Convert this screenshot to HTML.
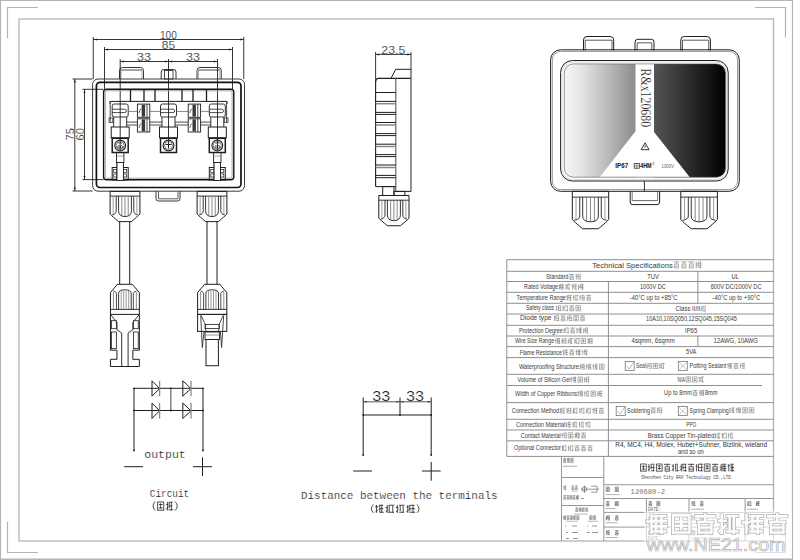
<!DOCTYPE html>
<html><head><meta charset="utf-8"><style>
html,body{margin:0;padding:0;background:#fff;width:800px;height:560px;overflow:hidden}
svg{display:block}
</style></head><body>
<svg width="800" height="560" viewBox="0 0 800 560">
<rect width="800" height="560" fill="#fff"/>
<line x1="0" y1="0.5" x2="793" y2="0.5" stroke="#b4b4b4" stroke-width="1.2" />
<line x1="0.5" y1="0" x2="0.5" y2="560" stroke="#b4b4b4" stroke-width="1.2" />
<line x1="792.5" y1="0" x2="792.5" y2="560" stroke="#b4b4b4" stroke-width="1.2" />
<line x1="0" y1="559.3" x2="793" y2="559.3" stroke="#b4b4b4" stroke-width="1.4" />
<rect x="19" y="19" width="754.5" height="522" rx="0" fill="none" stroke="#b4b4b4" stroke-width="1.3" />
<path d="M38,7.5 H7.5 V38" fill="none" stroke="#b4b4b4" stroke-width="1.2" />
<path d="M755,7.5 H785.5 V37.5" fill="none" stroke="#b4b4b4" stroke-width="1.2" />
<path d="M7.5,522 V552.5 H38" fill="none" stroke="#b4b4b4" stroke-width="1.2" />
<path d="M785.5,522 V552.5 H755" fill="none" stroke="#b4b4b4" stroke-width="1.2" />
<line x1="93.25" y1="37" x2="93.25" y2="79" stroke="#1e1e1e" stroke-width="0.9" />
<line x1="243.75" y1="37" x2="243.75" y2="79" stroke="#1e1e1e" stroke-width="0.9" />
<line x1="93.25" y1="39.5" x2="243.75" y2="39.5" stroke="#1e1e1e" stroke-width="0.9" />
<polygon points="93.6,39.5 96.8,38.5 96.8,40.5" fill="#222"/>
<polygon points="243.4,39.5 240.20000000000002,38.5 240.20000000000002,40.5" fill="#222"/>
<text x="168.4" y="38.6" font-family="Liberation Sans" font-size="10.6" text-anchor="middle" fill="#222" textLength="16.8" lengthAdjust="spacingAndGlyphs" stroke="#fff" stroke-width="0.18">100</text>
<line x1="104.5" y1="47" x2="104.5" y2="89" stroke="#1e1e1e" stroke-width="0.9" />
<line x1="232.5" y1="47" x2="232.5" y2="89" stroke="#1e1e1e" stroke-width="0.9" />
<line x1="104.5" y1="49.5" x2="232.5" y2="49.5" stroke="#1e1e1e" stroke-width="0.9" />
<polygon points="104.9,49.5 108.10000000000001,48.5 108.10000000000001,50.5" fill="#222"/>
<polygon points="232.1,49.5 228.9,48.5 228.9,50.5" fill="#222"/>
<text x="168.5" y="48.5" font-family="Liberation Sans" font-size="10.8" text-anchor="middle" fill="#222" textLength="13.4" lengthAdjust="spacingAndGlyphs" stroke="#fff" stroke-width="0.18">85</text>
<line x1="120.2" y1="59" x2="120.2" y2="150" stroke="#1e1e1e" stroke-width="0.9" />
<line x1="168.5" y1="59" x2="168.5" y2="146" stroke="#1e1e1e" stroke-width="0.9" />
<line x1="217.5" y1="59" x2="217.5" y2="150" stroke="#1e1e1e" stroke-width="0.9" />
<line x1="120.2" y1="61.5" x2="217.5" y2="61.5" stroke="#1e1e1e" stroke-width="0.9" />
<polygon points="120.6,61.5 123.8,60.5 123.8,62.5" fill="#222"/>
<polygon points="168.1,61.5 164.9,60.5 164.9,62.5" fill="#222"/>
<polygon points="168.9,61.5 172.1,60.5 172.1,62.5" fill="#222"/>
<polygon points="217.1,61.5 213.9,60.5 213.9,62.5" fill="#222"/>
<text x="144" y="60.5" font-family="Liberation Sans" font-size="10.6" text-anchor="middle" fill="#222" textLength="14" lengthAdjust="spacingAndGlyphs" stroke="#fff" stroke-width="0.18">33</text>
<text x="193" y="60.5" font-family="Liberation Sans" font-size="10.6" text-anchor="middle" fill="#222" textLength="14" lengthAdjust="spacingAndGlyphs" stroke="#fff" stroke-width="0.18">33</text>
<line x1="72.5" y1="79" x2="92.5" y2="79" stroke="#1e1e1e" stroke-width="0.9" />
<line x1="72.5" y1="191" x2="92.5" y2="191" stroke="#1e1e1e" stroke-width="0.9" />
<line x1="74.8" y1="79" x2="74.8" y2="191" stroke="#1e1e1e" stroke-width="0.9" />
<polygon points="74.8,79.4 73.8,82.60000000000001 75.8,82.60000000000001" fill="#222"/>
<polygon points="74.8,190.6 73.8,187.4 75.8,187.4" fill="#222"/>
<text x="0" y="0" font-family="Liberation Sans" font-size="10.4" text-anchor="middle" fill="#222" textLength="12.5" lengthAdjust="spacingAndGlyphs" stroke="#fff" stroke-width="0.18" transform="translate(73.6,134.3) rotate(-90)">75</text>
<line x1="82.5" y1="89.3" x2="103.5" y2="89.3" stroke="#1e1e1e" stroke-width="0.9" />
<line x1="82.5" y1="179.6" x2="103.5" y2="179.6" stroke="#1e1e1e" stroke-width="0.9" />
<line x1="84.5" y1="89.3" x2="84.5" y2="179.6" stroke="#1e1e1e" stroke-width="0.9" />
<polygon points="84.5,89.7 83.5,92.9 85.5,92.9" fill="#222"/>
<polygon points="84.5,179.2 83.5,176.0 85.5,176.0" fill="#222"/>
<text x="0" y="0" font-family="Liberation Sans" font-size="10.4" text-anchor="middle" fill="#222" textLength="12.5" lengthAdjust="spacingAndGlyphs" stroke="#fff" stroke-width="0.18" transform="translate(83.8,134.3) rotate(-90)">60</text>
<path d="M119.5,79 V70.5 Q119.5,67.5 122.5,67.5 H140.5 Q143.5,67.5 143.5,70.5 V79" fill="none" stroke="#1e1e1e" stroke-width="0.9" />
<line x1="121.0" y1="70" x2="142.0" y2="70" stroke="#1e1e1e" stroke-width="0.8" />
<line x1="121.0" y1="70" x2="121.0" y2="79" stroke="#777" stroke-width="0.6" />
<line x1="142.0" y1="70" x2="142.0" y2="79" stroke="#777" stroke-width="0.6" />
<path d="M197,79 V70.5 Q197,67.5 200,67.5 H218.25 Q221.25,67.5 221.25,70.5 V79" fill="none" stroke="#1e1e1e" stroke-width="0.9" />
<line x1="198.5" y1="70" x2="219.75" y2="70" stroke="#1e1e1e" stroke-width="0.8" />
<line x1="198.5" y1="70" x2="198.5" y2="79" stroke="#777" stroke-width="0.6" />
<line x1="219.75" y1="70" x2="219.75" y2="79" stroke="#777" stroke-width="0.6" />
<path d="M161.2,79 V72 Q161.2,69.5 163.7,69.5 H173.5 Q176,69.5 176,72 V79" fill="none" stroke="#1e1e1e" stroke-width="0.9" />
<rect x="164.5" y="70.5" width="8.5" height="8.5" rx="0" fill="none" stroke="#1e1e1e" stroke-width="0.8" />
<path d="M156,191 V198.5 Q156,201 158.5,201 H177.5 Q180,201 180,198.5 V191" fill="none" stroke="#1e1e1e" stroke-width="0.9" />
<path d="M158.5,191.4 V198.8 H178 V191.4" fill="none" stroke="#333" stroke-width="0.8" />
<rect x="92.6" y="79" width="151.9" height="112.2" rx="5.5" fill="none" stroke="#3a3a3a" stroke-width="1.0" />
<rect x="96.4" y="82.3" width="144.6" height="105.2" rx="3.5" fill="none" stroke="#111" stroke-width="1.7" />
<rect x="103.6" y="89.2" width="130.2" height="90.6" rx="3" fill="none" stroke="#111" stroke-width="1.4" />
<rect x="105.3" y="90.8" width="126.8" height="87.4" rx="2" fill="none" stroke="#9a9a9a" stroke-width="0.9" />
<line x1="110.2" y1="101.4" x2="226.6" y2="101.4" stroke="#1e1e1e" stroke-width="1.0" />
<line x1="130.5" y1="89.5" x2="130.5" y2="101" stroke="#1e1e1e" stroke-width="1.3" />
<line x1="144" y1="89.5" x2="144" y2="101" stroke="#1e1e1e" stroke-width="1.3" />
<line x1="155" y1="89.5" x2="155" y2="101" stroke="#1e1e1e" stroke-width="1.3" />
<line x1="182" y1="89.5" x2="182" y2="101" stroke="#1e1e1e" stroke-width="1.3" />
<line x1="193" y1="89.5" x2="193" y2="101" stroke="#1e1e1e" stroke-width="1.3" />
<line x1="206.5" y1="89.5" x2="206.5" y2="101" stroke="#1e1e1e" stroke-width="1.3" />
<path d="M110,104 V101 M227,101 V104" fill="none" stroke="#1e1e1e" stroke-width="0.8" />
<path d="M110.2,101.3 V122 M226.6,101.3 V122" fill="none" stroke="#1e1e1e" stroke-width="0.8" />
<rect x="224.2" y="118" width="3.8" height="4.5" rx="0" fill="none" stroke="#1e1e1e" stroke-width="0.7" />
<rect x="109" y="118" width="3.8" height="4.5" rx="0" fill="none" stroke="#1e1e1e" stroke-width="0.7" />
<rect x="112.2" y="104" width="16" height="13" rx="2" fill="none" stroke="#1e1e1e" stroke-width="0.9" />
<path d="M112.2,109.2 H124.7 A1.7,1.7 0 0 1 124.7,112.6 H112.2" fill="none" stroke="#1e1e1e" stroke-width="0.8" />
<path d="M113.7,117 V127 M126.7,117 V127" fill="none" stroke="#1e1e1e" stroke-width="0.9" />
<rect x="111.2" y="127" width="18" height="10.8" rx="0" fill="none" stroke="#1e1e1e" stroke-width="1.0" />
<rect x="112.2" y="138.3" width="16" height="14.2" rx="0" fill="none" stroke="#1e1e1e" stroke-width="1.5" />
<path d="M114.8,145.5 a5.4,5.4 0 1,0 10.8,0 a5.4,5.4 0 1,0 -10.8,0" fill="none" stroke="#1e1e1e" stroke-width="1.1" />
<path d="M116.2,145.5 a4,4 0 1,0 8,0 a4,4 0 1,0 -8,0" fill="none" stroke="#444" stroke-width="0.7" />
<rect x="160.5" y="104" width="16" height="13" rx="2" fill="none" stroke="#1e1e1e" stroke-width="0.9" />
<path d="M160.5,109.2 H173.0 A1.7,1.7 0 0 1 173.0,112.6 H160.5" fill="none" stroke="#1e1e1e" stroke-width="0.8" />
<path d="M162.0,117 V127 M175.0,117 V127" fill="none" stroke="#1e1e1e" stroke-width="0.9" />
<rect x="159.5" y="127" width="18" height="10.8" rx="0" fill="none" stroke="#1e1e1e" stroke-width="1.0" />
<rect x="160.5" y="138.3" width="16" height="14.2" rx="0" fill="none" stroke="#1e1e1e" stroke-width="1.5" />
<path d="M163.1,145.5 a5.4,5.4 0 1,0 10.8,0 a5.4,5.4 0 1,0 -10.8,0" fill="none" stroke="#1e1e1e" stroke-width="1.1" />
<path d="M164.5,145.5 a4,4 0 1,0 8,0 a4,4 0 1,0 -8,0" fill="none" stroke="#444" stroke-width="0.7" />
<rect x="209.3" y="104" width="16" height="13" rx="2" fill="none" stroke="#1e1e1e" stroke-width="0.9" />
<path d="M209.3,109.2 H221.8 A1.7,1.7 0 0 1 221.8,112.6 H209.3" fill="none" stroke="#1e1e1e" stroke-width="0.8" />
<path d="M210.8,117 V127 M223.8,117 V127" fill="none" stroke="#1e1e1e" stroke-width="0.9" />
<rect x="208.3" y="127" width="18" height="10.8" rx="0" fill="none" stroke="#1e1e1e" stroke-width="1.0" />
<rect x="209.3" y="138.3" width="16" height="14.2" rx="0" fill="none" stroke="#1e1e1e" stroke-width="1.5" />
<path d="M211.9,145.5 a5.4,5.4 0 1,0 10.8,0 a5.4,5.4 0 1,0 -10.8,0" fill="none" stroke="#1e1e1e" stroke-width="1.1" />
<path d="M213.3,145.5 a4,4 0 1,0 8,0 a4,4 0 1,0 -8,0" fill="none" stroke="#444" stroke-width="0.7" />
<path d="M117.7,147 a1.3,1.3 0 1,0 2.6,0 a1.3,1.3 0 1,0 -2.6,0 M120.4,147 a1.3,1.3 0 1,0 2.6,0 a1.3,1.3 0 1,0 -2.6,0" fill="none" stroke="#1e1e1e" stroke-width="0.7" />
<path d="M118.2,143 h4" fill="none" stroke="#1e1e1e" stroke-width="0.7" />
<path d="M214.8,147 a1.3,1.3 0 1,0 2.6,0 a1.3,1.3 0 1,0 -2.6,0 M217.5,147 a1.3,1.3 0 1,0 2.6,0 a1.3,1.3 0 1,0 -2.6,0" fill="none" stroke="#1e1e1e" stroke-width="0.7" />
<path d="M215.3,143 h4" fill="none" stroke="#1e1e1e" stroke-width="0.7" />
<path d="M165.5,144.5 h6 M168.5,144.5 v4" fill="none" stroke="#1e1e1e" stroke-width="1.0" />
<rect x="137.4" y="104.1" width="12.4" height="13.2" rx="0" fill="none" stroke="#1e1e1e" stroke-width="0.9" />
<rect x="141.7" y="104.69999999999999" width="3.4" height="12" rx="0" fill="#3a3a3a" stroke="none" stroke-width="0" />
<line x1="147.0" y1="104.1" x2="147.0" y2="117.3" stroke="#1e1e1e" stroke-width="0.8" />
<path d="M139.0,113.1 q0.6,-3.5 2.4,-4.5" fill="none" stroke="#1e1e1e" stroke-width="0.7" />
<rect x="137.4" y="118.8" width="12.4" height="13.2" rx="0" fill="none" stroke="#1e1e1e" stroke-width="0.9" />
<rect x="141.7" y="119.39999999999999" width="3.4" height="12" rx="0" fill="#3a3a3a" stroke="none" stroke-width="0" />
<line x1="147.0" y1="118.8" x2="147.0" y2="132.0" stroke="#1e1e1e" stroke-width="0.8" />
<path d="M139.0,127.8 q0.6,-3.5 2.4,-4.5" fill="none" stroke="#1e1e1e" stroke-width="0.7" />
<rect x="188.20000000000002" y="104.1" width="12.4" height="13.2" rx="0" fill="none" stroke="#1e1e1e" stroke-width="0.9" />
<rect x="192.5" y="104.69999999999999" width="3.4" height="12" rx="0" fill="#3a3a3a" stroke="none" stroke-width="0" />
<line x1="197.8" y1="104.1" x2="197.8" y2="117.3" stroke="#1e1e1e" stroke-width="0.8" />
<path d="M189.8,113.1 q0.6,-3.5 2.4,-4.5" fill="none" stroke="#1e1e1e" stroke-width="0.7" />
<rect x="188.20000000000002" y="118.8" width="12.4" height="13.2" rx="0" fill="none" stroke="#1e1e1e" stroke-width="0.9" />
<rect x="192.5" y="119.39999999999999" width="3.4" height="12" rx="0" fill="#3a3a3a" stroke="none" stroke-width="0" />
<line x1="197.8" y1="118.8" x2="197.8" y2="132.0" stroke="#1e1e1e" stroke-width="0.8" />
<path d="M189.8,127.8 q0.6,-3.5 2.4,-4.5" fill="none" stroke="#1e1e1e" stroke-width="0.7" />
<line x1="128.2" y1="111.4" x2="137.4" y2="111.4" stroke="#555" stroke-width="0.7" />
<line x1="149.8" y1="111.4" x2="160.5" y2="111.4" stroke="#555" stroke-width="0.7" />
<line x1="176.5" y1="111.4" x2="188.2" y2="111.4" stroke="#555" stroke-width="0.7" />
<line x1="200.6" y1="111.4" x2="209.3" y2="111.4" stroke="#555" stroke-width="0.7" />
<line x1="126.7" y1="122.1" x2="137.4" y2="122.1" stroke="#1e1e1e" stroke-width="0.8" />
<line x1="126.7" y1="125" x2="137.4" y2="125" stroke="#1e1e1e" stroke-width="0.8" />
<line x1="149.8" y1="122.1" x2="162" y2="122.1" stroke="#1e1e1e" stroke-width="0.8" />
<line x1="149.8" y1="125" x2="162" y2="125" stroke="#1e1e1e" stroke-width="0.8" />
<line x1="175" y1="122.1" x2="188.2" y2="122.1" stroke="#1e1e1e" stroke-width="0.8" />
<line x1="175" y1="125" x2="188.2" y2="125" stroke="#1e1e1e" stroke-width="0.8" />
<line x1="200.6" y1="122.1" x2="210.8" y2="122.1" stroke="#1e1e1e" stroke-width="0.8" />
<line x1="200.6" y1="125" x2="210.8" y2="125" stroke="#1e1e1e" stroke-width="0.8" />
<rect x="116.5" y="152.5" width="7.4" height="10" rx="0" fill="none" stroke="#1e1e1e" stroke-width="0.9" />
<line x1="116.5" y1="156" x2="123.9" y2="156" stroke="#666" stroke-width="0.6" />
<rect x="117.0" y="162.5" width="6.4" height="18" rx="0" fill="none" stroke="#1e1e1e" stroke-width="0.9" />
<rect x="112.2" y="167.5" width="16" height="12.5" rx="0" fill="none" stroke="#1e1e1e" stroke-width="1.0" />
<rect x="113.7" y="169.5" width="3.4" height="3" rx="0" fill="none" stroke="#1e1e1e" stroke-width="0.7" />
<rect x="123.3" y="169.5" width="3.4" height="3" rx="0" fill="none" stroke="#1e1e1e" stroke-width="0.7" />
<rect x="113.7" y="174" width="3.4" height="3" rx="0" fill="none" stroke="#1e1e1e" stroke-width="0.7" />
<rect x="123.3" y="174" width="3.4" height="3" rx="0" fill="none" stroke="#1e1e1e" stroke-width="0.7" />
<rect x="117.0" y="162.5" width="6.4" height="18" rx="0" fill="#fff" stroke="#1e1e1e" stroke-width="0.9" />
<rect x="213.60000000000002" y="152.5" width="7.4" height="10" rx="0" fill="none" stroke="#1e1e1e" stroke-width="0.9" />
<line x1="213.60000000000002" y1="156" x2="221.0" y2="156" stroke="#666" stroke-width="0.6" />
<rect x="214.10000000000002" y="162.5" width="6.4" height="18" rx="0" fill="none" stroke="#1e1e1e" stroke-width="0.9" />
<rect x="209.3" y="167.5" width="16" height="12.5" rx="0" fill="none" stroke="#1e1e1e" stroke-width="1.0" />
<rect x="210.8" y="169.5" width="3.4" height="3" rx="0" fill="none" stroke="#1e1e1e" stroke-width="0.7" />
<rect x="220.4" y="169.5" width="3.4" height="3" rx="0" fill="none" stroke="#1e1e1e" stroke-width="0.7" />
<rect x="210.8" y="174" width="3.4" height="3" rx="0" fill="none" stroke="#1e1e1e" stroke-width="0.7" />
<rect x="220.4" y="174" width="3.4" height="3" rx="0" fill="none" stroke="#1e1e1e" stroke-width="0.7" />
<rect x="214.10000000000002" y="162.5" width="6.4" height="18" rx="0" fill="#fff" stroke="#1e1e1e" stroke-width="0.9" />
<path d="M110.1,191.4 V214.05 Q112.1,216.164 118.593,221.6 H131.407 Q137.9,216.164 139.9,214.05 V191.4 Z" fill="none" stroke="#1e1e1e" stroke-width="1.0" />
<line x1="110.1" y1="196.08100000000002" x2="139.9" y2="196.08100000000002" stroke="#1e1e1e" stroke-width="0.9" />
<path d="M116.20899999999999,196.08100000000002 V210.748 Q116.20899999999999,214.248 112.1,214.94799999999998" fill="none" stroke="#1e1e1e" stroke-width="0.9" />
<path d="M133.791,196.08100000000002 V210.748 Q133.791,214.248 137.9,214.94799999999998" fill="none" stroke="#1e1e1e" stroke-width="0.9" />
<line x1="113.1545" y1="196.58100000000002" x2="113.1545" y2="213.748" stroke="#777" stroke-width="0.7" />
<line x1="136.84550000000002" y1="196.58100000000002" x2="136.84550000000002" y2="213.748" stroke="#777" stroke-width="0.7" />
<path d="M118.593,196.08100000000002 V210.748 Q118.593,216.548 125,216.548 Q131.407,216.548 131.407,210.748 V196.08100000000002" fill="none" stroke="#1e1e1e" stroke-width="0.9" />
<line x1="121.7965" y1="196.58100000000002" x2="121.7965" y2="216.048" stroke="#555" stroke-width="0.7" />
<line x1="125" y1="196.58100000000002" x2="125" y2="216.048" stroke="#555" stroke-width="0.7" />
<line x1="128.2035" y1="196.58100000000002" x2="128.2035" y2="216.048" stroke="#555" stroke-width="0.7" />
<path d="M197.1,191.4 V214.05 Q199.1,216.164 205.593,221.6 H218.407 Q224.9,216.164 226.9,214.05 V191.4 Z" fill="none" stroke="#1e1e1e" stroke-width="1.0" />
<line x1="197.1" y1="196.08100000000002" x2="226.9" y2="196.08100000000002" stroke="#1e1e1e" stroke-width="0.9" />
<path d="M203.209,196.08100000000002 V210.748 Q203.209,214.248 199.1,214.94799999999998" fill="none" stroke="#1e1e1e" stroke-width="0.9" />
<path d="M220.791,196.08100000000002 V210.748 Q220.791,214.248 224.9,214.94799999999998" fill="none" stroke="#1e1e1e" stroke-width="0.9" />
<line x1="200.15449999999998" y1="196.58100000000002" x2="200.15449999999998" y2="213.748" stroke="#777" stroke-width="0.7" />
<line x1="223.84550000000002" y1="196.58100000000002" x2="223.84550000000002" y2="213.748" stroke="#777" stroke-width="0.7" />
<path d="M205.593,196.08100000000002 V210.748 Q205.593,216.548 212,216.548 Q218.407,216.548 218.407,210.748 V196.08100000000002" fill="none" stroke="#1e1e1e" stroke-width="0.9" />
<line x1="208.7965" y1="196.58100000000002" x2="208.7965" y2="216.048" stroke="#555" stroke-width="0.7" />
<line x1="212" y1="196.58100000000002" x2="212" y2="216.048" stroke="#555" stroke-width="0.7" />
<line x1="215.2035" y1="196.58100000000002" x2="215.2035" y2="216.048" stroke="#555" stroke-width="0.7" />
<line x1="119.7" y1="221.6" x2="119.7" y2="284" stroke="#1e1e1e" stroke-width="1.0" />
<line x1="129.7" y1="221.6" x2="129.7" y2="284" stroke="#1e1e1e" stroke-width="1.0" />
<line x1="207" y1="221.6" x2="207" y2="284" stroke="#1e1e1e" stroke-width="1.0" />
<line x1="217" y1="221.6" x2="217" y2="284" stroke="#1e1e1e" stroke-width="1.0" />
<path d="M110.45,314.4 V292.6 L117.45,284.3 H132.35 L139.35,292.6 V314.4 Z" fill="none" stroke="#1e1e1e" stroke-width="1.0" />
<line x1="110.45" y1="309.4" x2="139.35" y2="309.4" stroke="#1e1e1e" stroke-width="0.9" />
<path d="M116.45,309.4 V293.3 Q115.45,291.3 113.45,290.90000000000003" fill="none" stroke="#1e1e1e" stroke-width="0.8" />
<path d="M133.35,309.4 V293.3 Q134.35,291.3 136.35,290.90000000000003" fill="none" stroke="#1e1e1e" stroke-width="0.8" />
<line x1="113.45" y1="291.8" x2="113.45" y2="309.4" stroke="#444" stroke-width="0.6" />
<line x1="136.35" y1="291.8" x2="136.35" y2="309.4" stroke="#444" stroke-width="0.6" />
<path d="M118.60000000000001,309.4 V293.3 Q118.60000000000001,289.8 124.9,289.8 Q131.20000000000002,289.8 131.20000000000002,293.3 V309.4" fill="none" stroke="#1e1e1e" stroke-width="0.9" />
<line x1="121.2" y1="290.8" x2="121.2" y2="309.4" stroke="#555" stroke-width="0.6" />
<line x1="123.7" y1="290.8" x2="123.7" y2="309.4" stroke="#555" stroke-width="0.6" />
<line x1="126.2" y1="290.8" x2="126.2" y2="309.4" stroke="#555" stroke-width="0.6" />
<line x1="128.70000000000002" y1="290.8" x2="128.70000000000002" y2="309.4" stroke="#555" stroke-width="0.6" />
<path d="M110.45,314.4 V350.2 H116.95 V359.3 H110.45 V366.5 H139.35 V359.3 H132.85 V350.2 H139.35 V314.4" fill="none" stroke="#1e1e1e" stroke-width="1.0" />
<path d="M110.45,314.4 L116.95,322.3 V329.8 L121.7,333 V366.5 M139.35,314.4 L132.85,322.3 V329.8 L128.1,333 V366.5" fill="none" stroke="#1e1e1e" stroke-width="0.9" />
<rect x="111.55" y="320.7" width="4.8" height="8" rx="0" fill="none" stroke="#1e1e1e" stroke-width="0.8" />
<rect x="133.45" y="320.7" width="4.8" height="8" rx="0" fill="none" stroke="#1e1e1e" stroke-width="0.8" />
<rect x="111.55" y="332" width="4.8" height="16.6" rx="0" fill="none" stroke="#1e1e1e" stroke-width="0.8" />
<rect x="133.45" y="332" width="4.8" height="16.6" rx="0" fill="none" stroke="#1e1e1e" stroke-width="0.8" />
<path d="M197.6,314.4 V292.6 L204.6,284.3 H219.79999999999998 L226.79999999999998,292.6 V314.4 Z" fill="none" stroke="#1e1e1e" stroke-width="1.0" />
<line x1="197.6" y1="309.4" x2="226.79999999999998" y2="309.4" stroke="#1e1e1e" stroke-width="0.9" />
<path d="M203.6,309.4 V293.3 Q202.6,291.3 200.6,290.90000000000003" fill="none" stroke="#1e1e1e" stroke-width="0.8" />
<path d="M220.79999999999998,309.4 V293.3 Q221.79999999999998,291.3 223.79999999999998,290.90000000000003" fill="none" stroke="#1e1e1e" stroke-width="0.8" />
<line x1="200.6" y1="291.8" x2="200.6" y2="309.4" stroke="#444" stroke-width="0.6" />
<line x1="223.79999999999998" y1="291.8" x2="223.79999999999998" y2="309.4" stroke="#444" stroke-width="0.6" />
<path d="M205.89999999999998,309.4 V293.3 Q205.89999999999998,289.8 212.2,289.8 Q218.5,289.8 218.5,293.3 V309.4" fill="none" stroke="#1e1e1e" stroke-width="0.9" />
<line x1="208.5" y1="290.8" x2="208.5" y2="309.4" stroke="#555" stroke-width="0.6" />
<line x1="211.0" y1="290.8" x2="211.0" y2="309.4" stroke="#555" stroke-width="0.6" />
<line x1="213.5" y1="290.8" x2="213.5" y2="309.4" stroke="#555" stroke-width="0.6" />
<line x1="216.0" y1="290.8" x2="216.0" y2="309.4" stroke="#555" stroke-width="0.6" />
<rect x="197.6" y="314.4" width="29.2" height="17" rx="0" fill="none" stroke="#1e1e1e" stroke-width="1.0" />
<path d="M200.7,315.4 L202.29999999999998,347.5 L204.0,331.4 M223.7,315.4 L221.6,347.5 L220.39999999999998,331.4" fill="none" stroke="#1e1e1e" stroke-width="0.8" />
<path d="M201.2,315.4 L205.2,324.4 V328.4 L206.2,331.4 M223.2,315.4 L219.2,324.4 V328.4 L218.2,331.4" fill="none" stroke="#1e1e1e" stroke-width="0.8" />
<rect x="205.2" y="324.4" width="14" height="4" rx="0" fill="none" stroke="#1e1e1e" stroke-width="0.8" />
<rect x="205.0" y="332" width="14.5" height="7.5" rx="0" fill="none" stroke="#1e1e1e" stroke-width="0.9" />
<line x1="205.0" y1="335" x2="219.5" y2="335" stroke="#555" stroke-width="0.6" />
<rect x="206.0" y="339.5" width="12.4" height="26.2" rx="0" fill="none" stroke="#1e1e1e" stroke-width="1.0" />
<line x1="375.6" y1="52" x2="375.6" y2="82" stroke="#1e1e1e" stroke-width="0.9" />
<line x1="411" y1="52" x2="411" y2="70" stroke="#1e1e1e" stroke-width="0.9" />
<line x1="375.6" y1="54.4" x2="411" y2="54.4" stroke="#1e1e1e" stroke-width="0.9" />
<polygon points="376,54.4 379.2,53.4 379.2,55.4" fill="#222"/>
<polygon points="410.6,54.4 407.40000000000003,53.4 407.40000000000003,55.4" fill="#222"/>
<text x="393.3" y="53.8" font-family="Liberation Sans" font-size="10.6" text-anchor="middle" fill="#222" textLength="24" lengthAdjust="spacingAndGlyphs" stroke="#fff" stroke-width="0.18">23.5</text>
<path d="M391,78.4 L395.7,69.3 H411" fill="none" stroke="#1e1e1e" stroke-width="1.0" />
<path d="M375.6,82 Q375.6,78.4 378.5,78.4 H411" fill="none" stroke="#1e1e1e" stroke-width="1.1" />
<line x1="375.6" y1="80" x2="375.6" y2="186.6" stroke="#1e1e1e" stroke-width="1.1" />
<line x1="411" y1="69.3" x2="411" y2="191.4" stroke="#555" stroke-width="1.3" />
<line x1="395.8" y1="78.4" x2="395.8" y2="191.4" stroke="#666" stroke-width="1.2" />
<line x1="375.6" y1="186.6" x2="395.8" y2="186.6" stroke="#1e1e1e" stroke-width="1.0" />
<line x1="395.8" y1="191.4" x2="411" y2="191.4" stroke="#1e1e1e" stroke-width="1.0" />
<line x1="375.6" y1="92.5" x2="395.8" y2="92.5" stroke="#1e1e1e" stroke-width="1.0" />
<line x1="375.6" y1="101.4" x2="395.8" y2="101.4" stroke="#1e1e1e" stroke-width="1.0" />
<line x1="375.6" y1="112.4" x2="395.8" y2="112.4" stroke="#1e1e1e" stroke-width="1.0" />
<line x1="375.6" y1="122.5" x2="395.8" y2="122.5" stroke="#1e1e1e" stroke-width="1.0" />
<line x1="375.6" y1="133.6" x2="395.8" y2="133.6" stroke="#1e1e1e" stroke-width="1.0" />
<line x1="375.6" y1="144.2" x2="395.8" y2="144.2" stroke="#1e1e1e" stroke-width="1.0" />
<line x1="375.6" y1="154.6" x2="395.8" y2="154.6" stroke="#1e1e1e" stroke-width="1.0" />
<line x1="375.6" y1="165.0" x2="395.8" y2="165.0" stroke="#1e1e1e" stroke-width="1.0" />
<line x1="375.6" y1="175.4" x2="395.8" y2="175.4" stroke="#1e1e1e" stroke-width="1.0" />
<line x1="375.6" y1="103.7" x2="395.8" y2="103.7" stroke="#888" stroke-width="1.5" />
<line x1="375.6" y1="125.0" x2="395.8" y2="125.0" stroke="#888" stroke-width="1.5" />
<line x1="375.6" y1="146.5" x2="395.8" y2="146.5" stroke="#888" stroke-width="1.5" />
<line x1="375.6" y1="167.5" x2="395.8" y2="167.5" stroke="#888" stroke-width="1.5" />
<line x1="375.6" y1="114.4" x2="395.8" y2="114.4" stroke="#1e1e1e" stroke-width="1.0" />
<line x1="375.6" y1="135.6" x2="395.8" y2="135.6" stroke="#1e1e1e" stroke-width="1.0" />
<line x1="375.6" y1="156.6" x2="395.8" y2="156.6" stroke="#1e1e1e" stroke-width="1.0" />
<line x1="375.6" y1="177.7" x2="395.8" y2="177.7" stroke="#1e1e1e" stroke-width="1.0" />
<rect x="382.7" y="186.6" width="11.3" height="8.9" rx="0" fill="none" stroke="#1e1e1e" stroke-width="1.0" />
<rect x="394" y="191.4" width="10.9" height="4.1" rx="0" fill="none" stroke="#1e1e1e" stroke-width="1.0" />
<path d="M378.79999999999995,195.5 V218.1875 Q380.79999999999995,220.305 387.407,225.75 H400.393 Q407.0,220.305 409.0,218.1875 V195.5 Z" fill="none" stroke="#1e1e1e" stroke-width="1.0" />
<line x1="378.79999999999995" y1="200.18875" x2="409.0" y2="200.18875" stroke="#1e1e1e" stroke-width="0.9" />
<path d="M384.99099999999993,200.18875 V214.885 Q384.99099999999993,218.385 380.79999999999995,219.08499999999998" fill="none" stroke="#1e1e1e" stroke-width="0.9" />
<path d="M402.809,200.18875 V214.885 Q402.809,218.385 407.0,219.08499999999998" fill="none" stroke="#1e1e1e" stroke-width="0.9" />
<line x1="381.89549999999997" y1="200.68875" x2="381.89549999999997" y2="217.885" stroke="#777" stroke-width="0.7" />
<line x1="405.9045" y1="200.68875" x2="405.9045" y2="217.885" stroke="#777" stroke-width="0.7" />
<path d="M387.407,200.18875 V214.885 Q387.407,220.685 393.9,220.685 Q400.393,220.685 400.393,214.885 V200.18875" fill="none" stroke="#1e1e1e" stroke-width="0.9" />
<line x1="390.65349999999995" y1="200.68875" x2="390.65349999999995" y2="220.185" stroke="#555" stroke-width="0.7" />
<line x1="393.9" y1="200.68875" x2="393.9" y2="220.185" stroke="#555" stroke-width="0.7" />
<line x1="397.1465" y1="200.68875" x2="397.1465" y2="220.185" stroke="#555" stroke-width="0.7" />
<defs>
<linearGradient id="gl" x1="564.3" y1="0" x2="635.5" y2="0" gradientUnits="userSpaceOnUse">
<stop offset="0" stop-color="#f6f6f6"/><stop offset="0.25" stop-color="#e4e4e4"/><stop offset="1" stop-color="#8c8c8c"/></linearGradient>
<linearGradient id="gr" x1="654" y1="0" x2="725.5" y2="0" gradientUnits="userSpaceOnUse">
<stop offset="0" stop-color="#555"/><stop offset="0.7" stop-color="#1a1a1a"/><stop offset="1" stop-color="#000"/></linearGradient>
<clipPath id="lab"><rect x="564.3" y="63.9" width="161.2" height="113.3" rx="9"/></clipPath>
</defs>
<path d="M583.5,50.5 V40.0 Q583.5,36.5 587.0,36.5 H610.2 Q613.7,36.5 613.7,40.0 V50.5" fill="none" stroke="#1e1e1e" stroke-width="1.0" />
<path d="M585.2,50.5 V40.2 H612.0 V50.5" fill="none" stroke="#333" stroke-width="0.8" />
<path d="M680.8,50.5 V40.0 Q680.8,36.5 684.3,36.5 H706.9 Q710.4,36.5 710.4,40.0 V50.5" fill="none" stroke="#1e1e1e" stroke-width="1.0" />
<path d="M682.5,50.5 V40.2 H708.6999999999999 V50.5" fill="none" stroke="#333" stroke-width="0.8" />
<path d="M635,50.5 V42 Q635,39.3 637.7,39.3 H651.3 Q654,39.3 654,42 V50.5" fill="none" stroke="#1e1e1e" stroke-width="1.0" />
<path d="M637.2,50.5 V42.8 H651.8 V50.5" fill="none" stroke="#333" stroke-width="0.8" />
<rect x="550.6" y="49.8" width="188.7" height="141.5" rx="10" fill="none" stroke="#1e1e1e" stroke-width="1.0" />
<rect x="552.3" y="51.4" width="185.3" height="138.2" rx="8.5" fill="none" stroke="#666" stroke-width="0.7" />
<rect x="560.6" y="60.5" width="167.6" height="120.5" rx="12" fill="none" stroke="#1e1e1e" stroke-width="1.0" />
<rect x="562.1" y="62.0" width="164.6" height="117.5" rx="11" fill="none" stroke="#bbb" stroke-width="0.5" />
<g clip-path="url(#lab)">
<rect x="564" y="63" width="72" height="116" fill="url(#gl)"/>
<rect x="654" y="63" width="72" height="116" fill="url(#gr)"/>
<polygon points="635.5,63 654,63 654,131.9 690,177.5 599.5,177.5 635.5,131.3" fill="#fff"/>
</g>
<rect x="564.3" y="63.9" width="161.2" height="113.3" rx="9" fill="none" stroke="#555" stroke-width="0.6" />
<text x="0" y="0" font-family="Liberation Serif" font-size="14.8" text-anchor="start" fill="#111" textLength="58.5" lengthAdjust="spacingAndGlyphs" stroke="#fff" stroke-width="0.2" transform="translate(641.4,68.6) rotate(90)">R&amp;x120680</text>
<path d="M645.1,142.8 L649,149.7 H641.2 Z" fill="none" stroke="#1e1e1e" stroke-width="0.9" />
<path d="M645.1,145.2 V147.6" fill="none" stroke="#1e1e1e" stroke-width="0.8" />
<text x="621.7" y="168.1" font-family="Liberation Sans" font-size="6.4" text-anchor="middle" fill="#111" textLength="12.8" lengthAdjust="spacingAndGlyphs" font-weight="bold">IP67</text>
<rect x="634.2" y="163.6" width="5.4" height="4.6" rx="0" fill="none" stroke="#1e1e1e" stroke-width="0.7" />
<line x1="636.9" y1="163.6" x2="636.9" y2="168.2" stroke="#1e1e1e" stroke-width="0.5" />
<line x1="634.2" y1="165.9" x2="639.6" y2="165.9" stroke="#1e1e1e" stroke-width="0.5" />
<text x="640.2" y="168.1" font-family="Liberation Sans" font-size="6.4" text-anchor="start" fill="#111" textLength="11.4" lengthAdjust="spacingAndGlyphs" font-weight="bold">4HM</text>
<text x="652.3" y="165.4" font-family="Liberation Sans" font-size="3.5" text-anchor="start" fill="#111" >2</text>
<text x="667.8" y="168.1" font-family="Liberation Sans" font-size="5.6" text-anchor="middle" fill="#666" textLength="12.5" lengthAdjust="spacingAndGlyphs" >1000V</text>
<line x1="644.4" y1="181" x2="644.4" y2="191.3" stroke="#1e1e1e" stroke-width="0.9" />
<path d="M630.2,191.3 V202 Q630.2,204.6 632.8,204.6 H657 Q659.6,204.6 659.6,202 V191.3" fill="none" stroke="#1e1e1e" stroke-width="1.0" />
<line x1="632.2" y1="200.6" x2="657.6" y2="200.6" stroke="#444" stroke-width="0.8" />
<line x1="632.2" y1="191.3" x2="632.2" y2="200.6" stroke="#444" stroke-width="0.7" />
<line x1="657.6" y1="191.3" x2="657.6" y2="200.6" stroke="#444" stroke-width="0.7" />
<path d="M572.3,191.3 V219.3875 Q574.3,222.00900000000001 582.674,228.75 H598.326 Q606.7,222.00900000000001 608.7,219.3875 V191.3 Z" fill="none" stroke="#1e1e1e" stroke-width="1.0" />
<line x1="572.3" y1="197.10475000000002" x2="608.7" y2="197.10475000000002" stroke="#1e1e1e" stroke-width="0.9" />
<path d="M579.762,197.10475000000002 V216.013 Q579.762,219.513 574.3,220.213" fill="none" stroke="#1e1e1e" stroke-width="0.9" />
<path d="M601.238,197.10475000000002 V216.013 Q601.238,219.513 606.7,220.213" fill="none" stroke="#1e1e1e" stroke-width="0.9" />
<line x1="576.031" y1="197.60475000000002" x2="576.031" y2="219.013" stroke="#777" stroke-width="0.7" />
<line x1="604.969" y1="197.60475000000002" x2="604.969" y2="219.013" stroke="#777" stroke-width="0.7" />
<path d="M582.674,197.10475000000002 V216.013 Q582.674,221.81300000000002 590.5,221.81300000000002 Q598.326,221.81300000000002 598.326,216.013 V197.10475000000002" fill="none" stroke="#1e1e1e" stroke-width="0.9" />
<line x1="586.587" y1="197.60475000000002" x2="586.587" y2="221.31300000000002" stroke="#555" stroke-width="0.7" />
<line x1="590.5" y1="197.60475000000002" x2="590.5" y2="221.31300000000002" stroke="#555" stroke-width="0.7" />
<line x1="594.413" y1="197.60475000000002" x2="594.413" y2="221.31300000000002" stroke="#555" stroke-width="0.7" />
<path d="M680.8000000000001,191.3 V219.3875 Q682.8000000000001,222.00900000000001 691.231,228.75 H706.969 Q715.4,222.00900000000001 717.4,219.3875 V191.3 Z" fill="none" stroke="#1e1e1e" stroke-width="1.0" />
<line x1="680.8000000000001" y1="197.10475000000002" x2="717.4" y2="197.10475000000002" stroke="#1e1e1e" stroke-width="0.9" />
<path d="M688.3030000000001,197.10475000000002 V216.013 Q688.3030000000001,219.513 682.8000000000001,220.213" fill="none" stroke="#1e1e1e" stroke-width="0.9" />
<path d="M709.8969999999999,197.10475000000002 V216.013 Q709.8969999999999,219.513 715.4,220.213" fill="none" stroke="#1e1e1e" stroke-width="0.9" />
<line x1="684.5515" y1="197.60475000000002" x2="684.5515" y2="219.013" stroke="#777" stroke-width="0.7" />
<line x1="713.6485" y1="197.60475000000002" x2="713.6485" y2="219.013" stroke="#777" stroke-width="0.7" />
<path d="M691.231,197.10475000000002 V216.013 Q691.231,221.81300000000002 699.1,221.81300000000002 Q706.969,221.81300000000002 706.969,216.013 V197.10475000000002" fill="none" stroke="#1e1e1e" stroke-width="0.9" />
<line x1="695.1655000000001" y1="197.60475000000002" x2="695.1655000000001" y2="221.31300000000002" stroke="#555" stroke-width="0.7" />
<line x1="699.1" y1="197.60475000000002" x2="699.1" y2="221.31300000000002" stroke="#555" stroke-width="0.7" />
<line x1="703.0345" y1="197.60475000000002" x2="703.0345" y2="221.31300000000002" stroke="#555" stroke-width="0.7" />
<line x1="134" y1="388.3" x2="203" y2="388.3" stroke="#1e1e1e" stroke-width="1.0" />
<line x1="134" y1="410.5" x2="203" y2="410.5" stroke="#1e1e1e" stroke-width="1.0" />
<line x1="134" y1="388.3" x2="134" y2="450.5" stroke="#1e1e1e" stroke-width="1.0" />
<line x1="203" y1="388.3" x2="203" y2="450.5" stroke="#1e1e1e" stroke-width="1.0" />
<line x1="170.8" y1="388.3" x2="170.8" y2="410.5" stroke="#666" stroke-width="1.2" />
<path d="M152,380.8 L159.6,388.5 L152,396.2 Z" fill="none" stroke="#1e1e1e" stroke-width="1.0" />
<line x1="159.6" y1="380.8" x2="159.6" y2="396.2" stroke="#8a8a8a" stroke-width="1.3" />
<path d="M152,403.1 L159.6,410.8 L152,418.5 Z" fill="none" stroke="#1e1e1e" stroke-width="1.0" />
<line x1="159.6" y1="403.1" x2="159.6" y2="418.5" stroke="#8a8a8a" stroke-width="1.3" />
<path d="M182.8,380.8 L191,388.5 L182.8,396.2 Z" fill="none" stroke="#1e1e1e" stroke-width="1.0" />
<line x1="191" y1="380.8" x2="191" y2="396.2" stroke="#8a8a8a" stroke-width="1.3" />
<path d="M182.8,403.1 L191,410.8 L182.8,418.5 Z" fill="none" stroke="#1e1e1e" stroke-width="1.0" />
<line x1="191" y1="403.1" x2="191" y2="418.5" stroke="#8a8a8a" stroke-width="1.3" />
<circle cx="134" cy="388.3" r="0.9" fill="#1e1e1e"/>
<circle cx="170.8" cy="388.3" r="0.9" fill="#1e1e1e"/>
<circle cx="203" cy="388.3" r="0.9" fill="#1e1e1e"/>
<circle cx="134" cy="410.5" r="0.9" fill="#1e1e1e"/>
<circle cx="170.8" cy="410.5" r="0.9" fill="#1e1e1e"/>
<circle cx="203" cy="410.5" r="0.9" fill="#1e1e1e"/>
<circle cx="134" cy="450.5" r="0.9" fill="#1e1e1e"/>
<circle cx="203" cy="450.5" r="0.9" fill="#1e1e1e"/>
<text x="165" y="458.3" font-family="Liberation Mono" font-size="11.2" text-anchor="middle" fill="#1e1e1e" textLength="41.5" lengthAdjust="spacingAndGlyphs" stroke="#fff" stroke-width="0.18">output</text>
<line x1="124.2" y1="466.7" x2="143" y2="466.7" stroke="#1e1e1e" stroke-width="1.0" />
<line x1="193" y1="466.7" x2="212" y2="466.7" stroke="#1e1e1e" stroke-width="1.0" />
<line x1="202.5" y1="457.3" x2="202.5" y2="476" stroke="#1e1e1e" stroke-width="1.0" />
<text x="169.5" y="496.7" font-family="Liberation Mono" font-size="11.0" text-anchor="middle" fill="#1e1e1e" textLength="39.5" lengthAdjust="spacingAndGlyphs" stroke="#fff" stroke-width="0.18">Circuit</text>
<path d="M155.20000000000002,501.5 Q150.88000000000002,506.0 155.20000000000002,510.5" fill="none" stroke="#1e1e1e" stroke-width="0.8" />
<path d="M175.1,501.5 Q179.42,506.0 175.1,510.5" fill="none" stroke="#1e1e1e" stroke-width="0.8" />
<path d="M157.63,501.95V510.50M163.72,501.95V510.50M157.63,501.95H163.72M158.77,504.56H162.58M158.77,507.96H162.58M160.68,503.30V508.70M157.63,510.23H163.72M167.65,501.95V510.50M165.82,504.40H168.02M165.97,509.60L168.02,506.90M169.01,502.22H172.82M168.81,506.00H172.54M168.70,509.78H173.29M169.22,502.22V507.97M171.33,502.46V510.50" fill="none" stroke="#1e1e1e" stroke-width="0.8" />
<line x1="363.2" y1="397.5" x2="363.2" y2="455" stroke="#1e1e1e" stroke-width="1.0" />
<line x1="431.2" y1="397.5" x2="431.2" y2="455" stroke="#1e1e1e" stroke-width="1.0" />
<line x1="400" y1="397.5" x2="400" y2="415" stroke="#1e1e1e" stroke-width="1.0" />
<line x1="363.2" y1="415" x2="431.2" y2="415" stroke="#1e1e1e" stroke-width="1.0" />
<line x1="363.2" y1="401.8" x2="431.2" y2="401.8" stroke="#444" stroke-width="0.9" />
<polygon points="363.6,401.8 366.8,400.8 366.8,402.8" fill="#444"/>
<polygon points="399.6,401.8 396.40000000000003,400.8 396.40000000000003,402.8" fill="#444"/>
<polygon points="400.4,401.8 403.59999999999997,400.8 403.59999999999997,402.8" fill="#444"/>
<polygon points="430.8,401.8 427.6,400.8 427.6,402.8" fill="#444"/>
<circle cx="363.2" cy="415" r="0.9" fill="#1e1e1e"/>
<circle cx="400" cy="415" r="0.9" fill="#1e1e1e"/>
<circle cx="431.2" cy="415" r="0.9" fill="#1e1e1e"/>
<circle cx="363.2" cy="455" r="0.9" fill="#1e1e1e"/>
<circle cx="431.2" cy="455" r="0.9" fill="#1e1e1e"/>
<text x="381.3" y="400.7" font-family="Liberation Sans" font-size="14.6" text-anchor="middle" fill="#1e1e1e" textLength="18" lengthAdjust="spacingAndGlyphs" stroke="#fff" stroke-width="0.18">33</text>
<text x="415" y="400.7" font-family="Liberation Sans" font-size="14.6" text-anchor="middle" fill="#1e1e1e" textLength="18" lengthAdjust="spacingAndGlyphs" stroke="#fff" stroke-width="0.18">33</text>
<line x1="353.2" y1="471" x2="372" y2="471" stroke="#1e1e1e" stroke-width="1.0" />
<line x1="422" y1="471" x2="440.7" y2="471" stroke="#1e1e1e" stroke-width="1.0" />
<line x1="431.2" y1="462" x2="431.2" y2="480.7" stroke="#1e1e1e" stroke-width="1.0" />
<text x="399.3" y="499.1" font-family="Liberation Mono" font-size="11.0" text-anchor="middle" fill="#1e1e1e" textLength="196.6" lengthAdjust="spacingAndGlyphs" stroke="#fff" stroke-width="0.18">Distance between the terminals</text>
<path d="M373.37999999999994,504.6 Q369.39599999999996,508.75 373.37999999999994,512.9" fill="none" stroke="#1e1e1e" stroke-width="0.8" />
<path d="M417.02000000000004,504.6 Q421.004,508.75 417.02000000000004,512.9" fill="none" stroke="#1e1e1e" stroke-width="0.8" />
<path d="M376.45,505.02V512.90M375.16,506.68H378.35M375.34,512.07L378.35,509.58M379.04,505.26H383.16M379.48,508.75H383.31M379.25,512.24H383.80M379.77,505.26V511.96M381.77,504.73V512.90M387.19,505.02V512.90M385.57,507.65H387.84M385.75,512.07L387.84,509.58M388.67,505.26H394.25M388.52,512.24H393.91M389.24,505.26V512.78M392.75,505.69V512.90M397.34,505.02V512.90M395.98,507.41H398.53M396.16,512.07L398.53,509.58M399.14,505.26H404.50M399.22,512.24H403.90M400.23,505.26V511.23M403.19,505.48V512.90M407.81,505.02V512.90M406.39,507.02H408.67M406.57,512.07L408.67,509.58M409.66,505.26H414.62M409.31,508.75H415.24M409.48,512.24H415.20M409.78,505.26V511.18M412.97,505.06V512.90" fill="none" stroke="#1e1e1e" stroke-width="0.8" />
<line x1="506.8" y1="259.7" x2="773.5" y2="259.7" stroke="#8f8f8f" stroke-width="1.0" />
<line x1="506.8" y1="271.3" x2="773.5" y2="271.3" stroke="#8f8f8f" stroke-width="1.0" />
<line x1="506.8" y1="281.5" x2="773.5" y2="281.5" stroke="#8f8f8f" stroke-width="1.0" />
<line x1="506.8" y1="292.3" x2="773.5" y2="292.3" stroke="#8f8f8f" stroke-width="1.0" />
<line x1="506.8" y1="303.3" x2="773.5" y2="303.3" stroke="#8f8f8f" stroke-width="1.0" />
<line x1="506.8" y1="314.0" x2="773.5" y2="314.0" stroke="#8f8f8f" stroke-width="1.0" />
<line x1="506.8" y1="325.3" x2="773.5" y2="325.3" stroke="#8f8f8f" stroke-width="1.0" />
<line x1="506.8" y1="336.0" x2="773.5" y2="336.0" stroke="#8f8f8f" stroke-width="1.0" />
<line x1="506.8" y1="346.6" x2="773.5" y2="346.6" stroke="#8f8f8f" stroke-width="1.0" />
<line x1="506.8" y1="357.6" x2="773.5" y2="357.6" stroke="#8f8f8f" stroke-width="1.0" />
<line x1="506.8" y1="374.3" x2="773.5" y2="374.3" stroke="#8f8f8f" stroke-width="1.0" />
<line x1="506.8" y1="385.5" x2="762" y2="385.5" stroke="#8f8f8f" stroke-width="1.0" />
<line x1="506.8" y1="402.6" x2="773.5" y2="402.6" stroke="#8f8f8f" stroke-width="1.0" />
<line x1="506.8" y1="419.3" x2="773.5" y2="419.3" stroke="#8f8f8f" stroke-width="1.0" />
<line x1="506.8" y1="430.0" x2="773.5" y2="430.0" stroke="#8f8f8f" stroke-width="1.0" />
<line x1="506.8" y1="440.8" x2="773.5" y2="440.8" stroke="#8f8f8f" stroke-width="1.0" />
<line x1="506.8" y1="456.4" x2="773.5" y2="456.4" stroke="#8f8f8f" stroke-width="1.0" />
<line x1="506.8" y1="259.7" x2="506.8" y2="456.4" stroke="#8f8f8f" stroke-width="1.0" />
<line x1="608.4" y1="281.5" x2="608.4" y2="456.4" stroke="#8f8f8f" stroke-width="1.0" />
<line x1="697.9" y1="271.3" x2="697.9" y2="303.3" stroke="#8f8f8f" stroke-width="1.0" />
<line x1="697.9" y1="336.0" x2="697.9" y2="346.6" stroke="#8f8f8f" stroke-width="1.0" />
<text x="592.20" y="267.6" font-family="Liberation Sans" font-size="8.0" fill="#3a3a3a" textLength="80.60" lengthAdjust="spacingAndGlyphs">Technical Specifications</text>
<path d="M673.57,262.04H679.43M676.50,261.36V263.75M674.22,264.10H678.78M674.55,264.44V268.20M678.45,264.44V268.20M674.55,266.15H678.45M674.55,267.99H678.45M680.97,262.04H686.83M683.90,261.36V263.75M681.62,264.10H686.18M681.95,264.44V268.20M685.85,264.44V268.20M681.95,266.15H685.85M681.95,267.99H685.85M688.37,262.04H694.23M691.30,261.36V263.75M689.02,264.10H693.58M689.35,264.44V268.20M693.25,264.44V268.20M689.35,266.15H693.25M689.35,267.99H693.25M696.28,261.70V268.20M695.44,264.01H697.47M695.57,267.52L697.47,265.46M697.93,261.91H701.51M697.83,263.82H701.77M698.31,265.74H701.56M697.93,267.65H701.18M698.20,261.91V267.13M700.53,262.33V268.20" fill="none" stroke="#666" stroke-width="0.5" />
<text x="545.90" y="278.9" font-family="Liberation Sans" font-size="6.5" fill="#3a3a3a" textLength="22.50" lengthAdjust="spacingAndGlyphs">Standard</text>
<path d="M569.08,274.40H574.22M571.65,273.83V275.81M569.65,276.10H573.65M569.93,276.38V279.50M573.37,276.38V279.50M569.93,277.80H573.37M569.93,279.33H573.37M576.40,274.11V279.50M575.29,276.00H577.34M577.74,274.28H580.68M577.70,276.66H580.69M577.95,279.05H580.50M578.01,274.28V278.78M580.24,274.86V279.50" fill="none" stroke="#666" stroke-width="0.5" />
<text x="524.00" y="288.9" font-family="Liberation Sans" font-size="6.5" fill="#3a3a3a" textLength="34.00" lengthAdjust="spacingAndGlyphs">Rated Voltage</text>
<path d="M559.32,284.11V289.50M558.39,285.92H559.84M558.50,288.93L559.84,287.23M560.33,284.28H563.73M560.24,285.87H563.74M560.29,287.46H563.92M560.50,289.05H563.99M560.57,284.28V288.79M562.47,284.45V289.50M566.19,284.11V289.50M564.89,285.72H566.70M565.00,288.93L566.70,287.23M567.24,284.28H570.55M567.04,289.05H570.02M567.33,284.28V288.32M568.98,283.90V289.50M572.55,284.11V289.50M571.39,285.81H573.01M573.74,284.28H576.80M573.57,286.66H576.76M573.58,289.05H576.88M573.94,284.28V287.84M575.76,284.25V289.50M578.58,284.11V289.50M577.89,286.33H579.88M578.00,288.93L579.88,287.23M580.48,284.28H583.54M580.30,285.87H583.32M580.22,287.46H583.39M580.23,289.05H583.58M580.79,284.28V287.88M582.69,284.27V289.50" fill="none" stroke="#666" stroke-width="0.5" />
<text x="516.60" y="299.9" font-family="Liberation Sans" font-size="6.5" fill="#3a3a3a" textLength="49.30" lengthAdjust="spacingAndGlyphs">Temperature Range</text>
<path d="M567.42,295.11V300.50M566.29,296.32H568.14M566.40,299.93L568.14,298.23M568.45,295.28H571.98M568.66,297.66H571.89M568.67,300.05H571.42M568.84,295.28V299.44M570.47,295.55V300.50M573.69,295.11V300.50M572.79,297.01H574.58M575.09,295.28H578.33M574.99,300.05H578.10M575.22,295.28V300.19M577.08,295.38V300.50M580.07,295.11V300.50M579.29,297.06H581.22M581.61,295.28H584.50M581.68,297.66H584.94M581.84,300.05H584.50M582.10,295.28V299.69M584.10,295.85V300.50M586.08,295.40H591.22M588.65,294.83V296.81M586.65,297.10H590.65M586.93,297.38V300.50M590.37,297.38V300.50M586.93,298.80H590.37M586.93,300.33H590.37" fill="none" stroke="#666" stroke-width="0.5" />
<text x="525.90" y="310.4" font-family="Liberation Sans" font-size="6.5" fill="#3a3a3a" textLength="28.05" lengthAdjust="spacingAndGlyphs">Safety class</text>
<path d="M556.64,305.61V311.00M555.79,307.02H557.59M555.90,310.43L557.59,308.73M558.29,305.78H561.12M558.02,308.16H560.92M557.90,310.55H561.35M558.55,305.78V310.10M560.63,306.11V311.00M563.22,305.61V311.00M562.29,307.24H564.04M562.40,310.43L564.04,308.73M564.66,305.78H567.72M564.48,310.55H568.00M564.88,305.78V309.64M567.43,306.09V311.00M569.08,305.90H574.22M571.65,305.33V307.31M569.65,307.60H573.65M569.93,307.88V311.00M573.37,307.88V311.00M569.93,309.30H573.37M569.93,310.83H573.37M575.86,305.61V311.00M580.44,305.61V311.00M575.86,305.61H580.44M576.72,307.52H579.58M576.72,309.23H579.58M578.15,306.46V309.87M575.86,310.83H580.44" fill="none" stroke="#666" stroke-width="0.5" />
<text x="520.00" y="320.4" font-family="Liberation Sans" font-size="6.5" fill="#3a3a3a" textLength="31.47" lengthAdjust="spacingAndGlyphs">Diode type</text>
<path d="M554.62,315.61V321.00M553.69,316.88H555.15M555.62,315.78H558.85M555.88,318.16H559.23M555.62,320.55H558.92M555.91,315.78V320.03M558.55,316.08V321.00M560.48,315.90H565.62M563.05,315.33V317.31M561.05,317.60H565.05M561.33,317.88V321.00M564.77,317.88V321.00M561.33,319.30H564.77M561.33,320.83H564.77M567.82,315.61V321.00M566.69,317.41H568.43M566.80,320.43L568.43,318.73M568.93,315.78H571.76M568.83,318.16H572.15M569.05,320.55H572.14M569.33,315.78V319.45M571.44,316.45V321.00M573.76,315.61V321.00M578.34,315.61V321.00M573.76,315.61H578.34M574.62,317.22H577.48M574.62,319.49H577.48M576.05,316.46V319.87M573.76,320.83H578.34M579.98,315.90H585.12M582.55,315.33V317.31M580.55,317.60H584.55M580.83,317.88V321.00M584.27,317.88V321.00M580.83,319.30H584.27M580.83,320.83H584.27" fill="none" stroke="#666" stroke-width="0.5" />
<text x="518.90" y="332.6" font-family="Liberation Sans" font-size="6.5" fill="#3a3a3a" textLength="44.00" lengthAdjust="spacingAndGlyphs">Protection Degree</text>
<path d="M564.31,327.81V333.20M563.29,329.94H565.18M563.40,332.63L565.18,330.93M565.79,327.98H568.52M565.78,332.75H568.95M565.83,327.98V331.64M568.17,328.16V333.20M570.08,328.10H575.22M572.65,327.53V329.51M570.65,329.80H574.65M570.93,330.08V333.20M574.37,330.08V333.20M570.93,331.50H574.37M570.93,333.03H574.37M577.00,327.81V333.20M576.29,329.26H578.34M576.40,332.63L578.34,330.93M578.95,327.98H581.89M578.73,329.57H581.85M579.08,331.16H581.89M578.88,332.75H581.68M579.16,327.98V331.56M580.65,327.96V333.20M583.90,327.81V333.20M582.79,329.99H584.61M582.90,332.63L584.61,330.93M585.19,327.98H588.30M585.06,330.37H587.85M585.25,332.75H588.38M585.67,327.98V331.96M587.34,327.88V333.20" fill="none" stroke="#666" stroke-width="0.5" />
<text x="514.90" y="343.1" font-family="Liberation Sans" font-size="6.5" fill="#3a3a3a" textLength="39.20" lengthAdjust="spacingAndGlyphs">Wire Size Range</text>
<path d="M555.92,338.31V343.70M554.49,340.48H556.54M556.85,338.48H560.14M557.25,340.07H559.68M556.98,341.66H560.09M557.05,343.25H560.18M557.63,338.48V342.95M559.31,339.04V343.70M562.37,338.31V343.70M560.99,340.32H563.05M561.10,343.13L563.05,341.43M563.75,338.48H566.17M563.64,340.87H566.42M563.69,343.25H566.06M563.81,338.48V342.87M565.96,338.83V343.70M568.87,338.31V343.70M567.49,340.42H569.52M567.60,343.13L569.52,341.43M569.95,338.48H573.04M569.94,343.25H572.56M570.34,338.48V342.77M571.54,338.72V343.70M574.94,338.31V343.70M573.99,339.86H575.56M574.10,343.13L575.56,341.43M576.25,338.48H579.65M575.87,343.25H579.21M576.26,338.48V343.23M578.80,338.44V343.70M581.06,338.31V343.70M585.64,338.31V343.70M581.06,338.31H585.64M581.92,340.16H584.78M581.92,341.49H584.78M583.35,339.16V342.57M581.06,343.53H585.64M588.27,338.31V343.70M586.99,339.62H588.82M587.10,343.13L588.82,341.43M589.34,338.48H592.53M589.34,340.07H592.39M589.49,341.66H592.15M589.40,343.25H592.21M589.53,338.48V343.14M592.09,338.90V343.70" fill="none" stroke="#666" stroke-width="0.5" />
<text x="519.70" y="354.6" font-family="Liberation Sans" font-size="6.5" fill="#3a3a3a" textLength="42.20" lengthAdjust="spacingAndGlyphs">Flame Resistance</text>
<path d="M563.59,349.81V355.20M562.29,350.97H564.04M562.40,354.63L564.04,352.93M564.49,349.98H567.85M564.60,352.37H568.00M564.38,354.75H567.54M565.14,349.98V353.56M566.71,349.88V355.20M569.08,350.10H574.22M571.65,349.53V351.51M569.65,351.80H573.65M569.93,352.08V355.20M573.37,352.08V355.20M569.93,353.50H573.37M569.93,355.03H573.37M576.48,349.81V355.20M575.29,351.37H577.29M577.66,349.98H580.74M577.88,351.57H580.66M577.63,353.16H580.61M577.93,354.75H580.93M578.11,349.98V354.32M579.43,350.07V355.20M582.68,349.81V355.20M581.79,351.81H583.56M584.20,349.98H587.30M584.00,351.57H587.36M584.14,353.16H587.28M584.27,354.75H587.27M584.50,349.98V353.51M586.72,350.49V355.20" fill="none" stroke="#666" stroke-width="0.5" />
<text x="518.90" y="368.9" font-family="Liberation Sans" font-size="6.5" fill="#3a3a3a" textLength="60.10" lengthAdjust="spacingAndGlyphs">Waterproofing Structure</text>
<path d="M580.42,364.11V369.50M579.39,366.06H581.08M579.50,368.93L581.08,367.23M581.76,364.28H584.60M581.54,365.87H584.79M581.46,367.46H584.64M581.67,369.05H584.92M582.08,364.28V367.91M584.14,364.69V369.50M586.59,364.11V369.50M585.89,366.38H587.58M587.91,364.28H591.53M588.14,365.87H591.00M588.18,367.46H591.33M588.19,369.05H591.53M588.27,364.28V368.89M590.19,364.94V369.50M593.33,364.11V369.50M592.39,365.81H594.34M594.84,364.28H597.95M594.63,366.66H597.59M594.66,369.05H597.72M595.38,364.28V368.66M596.66,364.45V369.50M599.46,364.11V369.50M604.04,364.11V369.50M599.46,364.11H604.04M600.32,365.77H603.18M600.32,367.94H603.18M601.75,364.96V368.37M599.46,369.33H604.04" fill="none" stroke="#666" stroke-width="0.5" />
<text x="517.60" y="381.8" font-family="Liberation Sans" font-size="6.5" fill="#3a3a3a" textLength="52.90" lengthAdjust="spacingAndGlyphs">Volume of Silicon Gel</text>
<path d="M571.72,377.01V382.40M570.89,379.07H572.88M573.32,377.18H576.07M573.57,378.77H576.19M573.47,380.36H576.00M573.62,381.95H576.45M573.87,377.18V381.69M575.36,376.84V382.40M577.96,377.01V382.40M582.54,377.01V382.40M577.96,377.01H582.54M578.82,379.08H581.68M578.82,380.64H581.68M580.25,377.86V381.27M577.96,382.23H582.54M584.70,377.01V382.40M583.89,379.00H585.85M584.00,381.83L585.85,380.13M586.24,377.18H589.53M586.19,379.56H588.94M586.37,381.95H589.33M586.47,377.18V381.77M588.50,376.97V382.40" fill="none" stroke="#666" stroke-width="0.5" />
<text x="515.00" y="395.8" font-family="Liberation Sans" font-size="6.5" fill="#3a3a3a" textLength="62.00" lengthAdjust="spacingAndGlyphs">Width of Copper Ribbons</text>
<path d="M578.33,391.01V396.40M577.39,392.62H579.26M577.50,395.83L579.26,394.13M579.82,391.18H582.52M579.95,392.77H582.85M579.94,394.36H583.04M579.69,395.95H583.08M580.27,391.18V394.83M582.07,390.95V396.40M584.78,391.01V396.40M583.89,393.11H585.95M586.51,391.18H589.28M586.44,395.95H588.95M586.62,391.18V396.25M588.24,391.27V396.40M590.96,391.01V396.40M595.54,391.01V396.40M590.96,391.01H595.54M591.82,392.57H594.68M591.82,394.38H594.68M593.25,391.86V395.27M590.96,396.23H595.54M598.01,391.01V396.40M596.89,393.04H598.71M597.00,395.83L598.71,394.13M599.30,391.18H602.55M599.20,393.56H602.43M599.26,395.95H602.59M599.36,391.18V395.65M600.93,391.14V396.40" fill="none" stroke="#666" stroke-width="0.5" />
<text x="511.80" y="412.9" font-family="Liberation Sans" font-size="6.5" fill="#3a3a3a" textLength="47.30" lengthAdjust="spacingAndGlyphs">Connection Method</text>
<path d="M560.43,408.11V413.50M559.49,409.47H560.99M559.60,412.93L560.99,411.23M561.37,408.28H565.19M561.50,410.66H564.75M561.65,413.05H565.01M561.65,408.28V412.89M563.83,408.82V413.50M567.23,408.11V413.50M565.99,409.34H567.56M566.10,412.93L567.56,411.23M568.18,408.28H571.15M567.88,410.66H571.60M567.95,413.05H571.29M568.18,408.28V411.88M570.64,407.98V413.50M573.50,408.11V413.50M572.49,410.00H573.92M572.60,412.93L573.92,411.23M574.63,408.28H577.68M574.40,413.05H577.67M574.59,408.28V413.06M576.83,408.81V413.50M580.01,408.11V413.50M578.99,409.37H580.94M579.10,412.93L580.94,411.23M581.36,408.28H584.36M581.56,413.05H584.56M581.67,408.28V412.16M583.81,408.29V413.50M586.81,408.11V413.50M585.49,410.15H587.08M585.60,412.93L587.08,411.23M587.67,408.28H590.55M587.68,413.05H590.81M588.02,408.28V412.21M590.31,408.33V413.50M593.26,408.11V413.50M591.99,409.47H594.10M594.49,408.28H597.48M594.46,410.66H597.70M594.47,413.05H597.36M594.72,408.28V411.82M596.48,407.97V413.50M598.78,408.40H603.92M601.35,407.83V409.81M599.35,410.10H603.35M599.63,410.38V413.50M603.07,410.38V413.50M599.63,411.80H603.07M599.63,413.33H603.07" fill="none" stroke="#666" stroke-width="0.5" />
<text x="516.00" y="426.8" font-family="Liberation Sans" font-size="6.5" fill="#3a3a3a" textLength="49.00" lengthAdjust="spacingAndGlyphs">Connection Material</text>
<path d="M566.31,422.01V427.40M565.39,423.87H567.15M565.50,426.83L567.15,425.13M567.82,422.18H570.95M567.89,424.56H571.09M567.71,426.95H570.84M568.23,422.18V425.83M569.61,422.34V427.40M573.10,422.01V427.40M571.89,423.74H573.59M572.00,426.83L573.59,425.13M574.04,422.18H576.98M574.15,426.95H577.32M574.53,422.18V426.62M576.29,422.33V427.40M579.47,422.01V427.40M578.39,424.08H580.45M580.88,422.18H583.48M580.76,426.95H583.46M581.43,422.18V426.41M583.19,422.29V427.40M586.17,422.01V427.40M584.89,423.16H586.81M587.20,422.18H590.17M587.21,426.95H590.43M587.78,422.18V426.00M589.91,422.07V427.40" fill="none" stroke="#666" stroke-width="0.5" />
<text x="520.80" y="437.6" font-family="Liberation Sans" font-size="6.5" fill="#3a3a3a" textLength="40.00" lengthAdjust="spacingAndGlyphs">Contact Material</text>
<path d="M562.31,432.81V438.20M561.19,434.97H563.21M563.57,432.98H566.61M563.63,435.37H566.31M563.71,437.75H566.37M564.12,432.98V436.78M566.25,432.82V438.20M568.26,432.81V438.20M572.84,432.81V438.20M568.26,432.81H572.84M569.12,434.74H571.98M569.12,436.66H571.98M570.55,433.66V437.07M568.26,438.03H572.84M575.61,432.81V438.20M574.19,434.54H575.64M574.30,437.63L575.64,435.93M576.20,432.98H579.36M576.08,434.57H579.91M576.18,436.16H579.50M576.31,437.75H579.69M576.49,432.98V436.96M578.96,432.70V438.20M580.98,433.10H586.12M583.55,432.53V434.51M581.55,434.80H585.55M581.83,435.08V438.20M585.27,435.08V438.20M581.83,436.50H585.27M581.83,438.03H585.27" fill="none" stroke="#666" stroke-width="0.5" />
<text x="514.00" y="450.4" font-family="Liberation Sans" font-size="6.5" fill="#3a3a3a" textLength="46.80" lengthAdjust="spacingAndGlyphs">Optional Connector</text>
<path d="M562.50,445.61V451.00M561.19,447.12H562.80M561.30,450.43L562.80,448.73M563.47,445.78H566.29M563.34,450.55H566.29M563.51,445.78V449.94M565.78,446.28V451.00M568.69,445.61V451.00M567.69,447.67H569.77M567.80,450.43L569.77,448.73M570.29,445.78H573.38M570.32,450.55H573.16M570.44,445.78V449.90M572.71,446.09V451.00M574.48,445.90H579.62M577.05,445.33V447.31M575.05,447.60H579.05M575.33,447.88V451.00M578.77,447.88V451.00M575.33,449.30H578.77M575.33,450.83H578.77M580.98,445.90H586.12M583.55,445.33V447.31M581.55,447.60H585.55M581.83,447.88V451.00M585.27,447.88V451.00M581.83,449.30H585.27M581.83,450.83H585.27M587.48,445.90H592.62M590.05,445.33V447.31M588.05,447.60H592.05M588.33,447.88V451.00M591.77,447.88V451.00M588.33,449.30H591.77M588.33,450.83H591.77" fill="none" stroke="#666" stroke-width="0.5" />
<text x="647.30" y="278.8" font-family="Liberation Sans" font-size="6.5" fill="#3a3a3a" textLength="11.70" lengthAdjust="spacingAndGlyphs">TUV</text>
<text x="731.60" y="278.8" font-family="Liberation Sans" font-size="6.5" fill="#3a3a3a" textLength="7.40" lengthAdjust="spacingAndGlyphs">UL</text>
<text x="640.00" y="289.4" font-family="Liberation Sans" font-size="6.5" fill="#3a3a3a" textLength="25.70" lengthAdjust="spacingAndGlyphs">1000V DC</text>
<text x="710.70" y="289.4" font-family="Liberation Sans" font-size="6.5" fill="#3a3a3a" textLength="50.90" lengthAdjust="spacingAndGlyphs">600V DC/1000V DC</text>
<text x="629.70" y="300.0" font-family="Liberation Sans" font-size="6.5" fill="#3a3a3a" textLength="47.90" lengthAdjust="spacingAndGlyphs">-40°C up to +85°C</text>
<text x="712.50" y="300.0" font-family="Liberation Sans" font-size="6.5" fill="#3a3a3a" textLength="47.70" lengthAdjust="spacingAndGlyphs">-40°C up to +90°C</text>
<text x="675.40" y="310.8" font-family="Liberation Sans" font-size="6.5" fill="#3a3a3a" textLength="25.00" lengthAdjust="spacingAndGlyphs">Class II/II</text>
<path d="M701.99,306.01V311.40M700.79,308.02H702.22M700.90,310.83L702.22,309.13M702.96,306.18H706.23M702.88,310.95H706.18M703.09,306.18V309.70M705.04,306.68V311.40" fill="none" stroke="#666" stroke-width="0.5" />
<text x="646.10" y="320.9" font-family="Liberation Sans" font-size="6.5" fill="#3a3a3a" textLength="90.70" lengthAdjust="spacingAndGlyphs">10A10,10SQ050,12SQ045,15SQ045</text>
<text x="685.00" y="332.8" font-family="Liberation Sans" font-size="6.5" fill="#3a3a3a" textLength="12.20" lengthAdjust="spacingAndGlyphs">IP65</text>
<text x="631.50" y="342.7" font-family="Liberation Sans" font-size="6.5" fill="#3a3a3a" textLength="43.20" lengthAdjust="spacingAndGlyphs">4sqmm,  6sqmm</text>
<text x="713.60" y="342.7" font-family="Liberation Sans" font-size="6.5" fill="#3a3a3a" textLength="44.40" lengthAdjust="spacingAndGlyphs">12AWG,  10AWG</text>
<text x="686.00" y="354.0" font-family="Liberation Sans" font-size="6.5" fill="#3a3a3a" textLength="10.30" lengthAdjust="spacingAndGlyphs">5VA</text>
<text x="636.00" y="368.1" font-family="Liberation Sans" font-size="6.5" fill="#3a3a3a" textLength="9.80" lengthAdjust="spacingAndGlyphs">Seal</text>
<path d="M647.06,363.31V368.70M646.19,365.45H647.88M646.30,368.13L647.88,366.43M648.55,363.48H651.24M648.49,365.87H651.31M648.52,368.25H651.64M648.81,363.48V367.11M651.21,363.07V368.70M653.26,363.31V368.70M657.84,363.31V368.70M653.26,363.31H657.84M654.12,365.06H656.98M654.12,366.50H656.98M655.55,364.16V367.57M653.26,368.53H657.84M659.98,363.31V368.70M659.19,365.04H660.92M659.30,368.13L660.92,366.43M661.58,363.48H664.87M661.22,368.25H664.27M661.64,363.48V368.65M663.44,363.51V368.70" fill="none" stroke="#666" stroke-width="0.5" />
<text x="689.60" y="368.1" font-family="Liberation Sans" font-size="6.5" fill="#3a3a3a" textLength="36.70" lengthAdjust="spacingAndGlyphs">Potting Sealant</text>
<path d="M728.07,363.31V368.70M726.69,364.62H728.80M729.39,363.48H732.40M729.47,365.07H732.28M729.46,366.66H732.16M729.35,368.25H731.75M729.39,363.48V367.54M730.84,363.45V368.70M733.48,363.60H738.62M736.05,363.03V365.01M734.05,365.30H738.05M734.33,365.58V368.70M737.77,365.58V368.70M734.33,367.00H737.77M734.33,368.53H737.77M740.50,363.31V368.70M739.69,365.34H741.18M741.90,363.48H745.08M741.92,365.87H745.03M741.84,368.25H744.73M742.21,363.48V367.02M743.92,363.15V368.70" fill="none" stroke="#666" stroke-width="0.5" />
<text x="677.60" y="381.6" font-family="Liberation Sans" font-size="6.5" fill="#3a3a3a" textLength="7.50" lengthAdjust="spacingAndGlyphs">N/A</text>
<path d="M686.06,376.81V382.20M690.64,376.81V382.20M686.06,376.81H690.64M686.92,378.36H689.78M686.92,380.49H689.78M688.35,377.66V381.07M686.06,382.03H690.64M692.56,376.81V382.20M697.14,376.81V382.20M692.56,376.81H697.14M693.42,379.03H696.28M693.42,380.54H696.28M694.85,377.66V381.07M692.56,382.03H697.14M699.71,376.81V382.20M698.49,378.01H700.25M698.60,381.63L700.25,379.93M700.84,376.98H704.02M700.77,381.75H703.97M701.04,376.98V381.24M702.50,376.98V382.20" fill="none" stroke="#666" stroke-width="0.5" />
<text x="664.10" y="395.1" font-family="Liberation Sans" font-size="6.5" fill="#3a3a3a" textLength="27.78" lengthAdjust="spacingAndGlyphs">Up to 8mm</text>
<path d="M692.55,390.60H697.70M695.13,390.03V392.01M693.13,392.30H697.13M693.41,392.58V395.70M696.84,392.58V395.70M693.41,394.00H696.84M693.41,395.53H696.84M700.00,390.31V395.70M698.77,392.24H700.21M700.83,390.48H704.21M700.75,392.07H704.24M700.64,393.66H704.29M700.73,395.25H704.11M701.28,390.48V394.74M703.53,390.66V395.70" fill="none" stroke="#666" stroke-width="0.5" />
<text x="704.88" y="395.1" font-family="Liberation Sans" font-size="6.5" fill="#3a3a3a" textLength="12.62" lengthAdjust="spacingAndGlyphs">8mm</text>
<text x="627.00" y="412.5" font-family="Liberation Sans" font-size="6.5" fill="#3a3a3a" textLength="23.00" lengthAdjust="spacingAndGlyphs">Soldering</text>
<path d="M650.68,408.00H655.82M653.25,407.43V409.41M651.25,409.70H655.25M651.53,409.98V413.10M654.97,409.98V413.10M651.53,411.40H654.97M651.53,412.93H654.97M657.58,407.71V413.10M656.89,409.09H658.33M657.00,412.53L658.33,410.83M658.75,407.88H662.61M658.83,410.26H662.26M658.93,412.65H662.00M659.06,407.88V412.47M661.61,408.50V413.10" fill="none" stroke="#666" stroke-width="0.5" />
<text x="689.60" y="412.5" font-family="Liberation Sans" font-size="6.5" fill="#3a3a3a" textLength="39.20" lengthAdjust="spacingAndGlyphs">Spring Clamping</text>
<path d="M730.13,407.71V413.10M729.19,408.89H731.13M729.30,412.53L731.13,410.83M731.58,407.88H734.81M731.78,410.26H734.41M731.73,412.65H734.61M732.23,407.88V411.73M733.52,408.44V413.10M736.77,407.71V413.10M735.69,409.04H737.45M737.94,407.88H741.25M737.74,409.47H741.15M737.83,411.06H741.02M737.77,412.65H740.96M738.28,407.88V411.75M740.06,408.11V413.10M742.76,407.71V413.10M747.34,407.71V413.10M742.76,407.71H747.34M743.62,409.43H746.48M743.62,411.02H746.48M745.05,408.56V411.97M742.76,412.93H747.34M749.26,407.71V413.10M753.84,407.71V413.10M749.26,407.71H753.84M750.12,409.83H752.98M750.12,410.89H752.98M751.55,408.56V411.97M749.26,412.93H753.84" fill="none" stroke="#666" stroke-width="0.5" />
<text x="686.20" y="426.6" font-family="Liberation Sans" font-size="6.5" fill="#3a3a3a" textLength="10.10" lengthAdjust="spacingAndGlyphs">PPO</text>
<text x="647.70" y="437.9" font-family="Liberation Sans" font-size="6.5" fill="#3a3a3a" textLength="66.70" lengthAdjust="spacingAndGlyphs">Brass Copper Tin-plated</text>
<path d="M715.54,433.11V438.50M714.79,434.87H716.91M714.90,437.93L716.91,436.23M717.40,433.28H720.38M717.42,438.05H719.87M718.02,433.28V438.47M719.10,433.74V438.50M722.39,433.11V438.50M721.29,434.64H722.89M721.40,437.93L722.89,436.23M723.32,433.28H726.60M723.34,438.05H726.64M723.61,433.28V437.02M726.43,433.48V438.50M728.58,433.11V438.50M727.79,434.96H729.72M730.19,433.28H732.82M730.02,438.05H733.32M730.51,433.28V437.03M732.04,433.63V438.50" fill="none" stroke="#666" stroke-width="0.5" />
<text x="678.00" y="454.3" font-family="Liberation Sans" font-size="6.5" fill="#3a3a3a" textLength="25.80" lengthAdjust="spacingAndGlyphs">and so on</text>
<text x="615.3" y="446.9" font-family="Liberation Sans" font-size="6.9" text-anchor="start" fill="#333" textLength="151.7" lengthAdjust="spacingAndGlyphs" >R4, MC4, H4, Molex, Huber+Suhner, Bizlink, wieland</text>
<rect x="625.2" y="361.4" width="9" height="9" rx="0" fill="none" stroke="#777" stroke-width="0.8" />
<path d="M626.7,366.2 L629.2,369.0 L633.8000000000001,362.0" fill="none" stroke="#999" stroke-width="0.7" />
<rect x="678.3" y="361.4" width="9" height="9" rx="0" fill="none" stroke="#777" stroke-width="0.8" />
<path d="M679.3,362.4 L686.3,369.4 M686.3,362.4 L679.3,369.4" fill="none" stroke="#999" stroke-width="0.6" />
<rect x="616.2" y="406.4" width="9" height="9" rx="0" fill="none" stroke="#777" stroke-width="0.8" />
<path d="M617.7,411.2 L620.2,414.0 L624.8000000000001,407.0" fill="none" stroke="#999" stroke-width="0.7" />
<rect x="678.3" y="406.4" width="9" height="9" rx="0" fill="none" stroke="#777" stroke-width="0.8" />
<path d="M679.3,407.4 L686.3,414.4 M686.3,407.4 L679.3,414.4" fill="none" stroke="#999" stroke-width="0.6" />
<line x1="561.5" y1="456.4" x2="561.5" y2="541" stroke="#959595" stroke-width="1.0" />
<line x1="603.8" y1="456.4" x2="603.8" y2="541" stroke="#959595" stroke-width="1.0" />
<line x1="561.5" y1="477.5" x2="603.8" y2="477.5" stroke="#959595" stroke-width="1.0" />
<line x1="561.5" y1="505.5" x2="603.8" y2="505.5" stroke="#959595" stroke-width="1.0" />
<line x1="603.8" y1="484.7" x2="773.5" y2="484.7" stroke="#959595" stroke-width="1.0" />
<line x1="603.8" y1="498.5" x2="773.5" y2="498.5" stroke="#959595" stroke-width="1.0" />
<line x1="603.8" y1="512.4" x2="773.5" y2="512.4" stroke="#959595" stroke-width="1.0" />
<line x1="603.8" y1="527.1" x2="773.5" y2="527.1" stroke="#959595" stroke-width="1.0" />
<line x1="646.4" y1="498.5" x2="646.4" y2="541" stroke="#959595" stroke-width="1.0" />
<line x1="689.0" y1="498.5" x2="689.0" y2="541" stroke="#959595" stroke-width="1.0" />
<line x1="745.1" y1="498.5" x2="745.1" y2="541" stroke="#959595" stroke-width="1.0" />
<path d="M564.03,458.05V462.80M563.27,460.04H564.06M563.33,462.30L564.06,460.80M564.25,458.20H566.18M564.25,462.40H566.13M564.54,458.20V461.59M565.56,458.22V462.80M567.47,458.05V462.80M566.87,459.43H567.81M568.16,458.20H569.81M568.05,460.30H569.82M568.14,462.40H569.87M568.30,458.20V462.17M569.11,458.22V462.80M570.78,458.05V462.80M573.22,458.05V462.80M570.78,458.05H573.22M571.24,459.45H572.76M571.24,460.81H572.76M572.00,458.80V461.80M570.78,462.65H573.22" fill="none" stroke="#666" stroke-width="0.5" />
<path d="M563,466.2 h14" fill="none" stroke="#aaa" stroke-width="1.0" />
<path d="M564.01,485.73V490.00M563.27,487.03H564.40M564.69,485.86H566.32M564.62,489.64H566.30M564.92,485.86V488.86M565.54,486.23V490.00" fill="none" stroke="#666" stroke-width="0.5" />
<path d="M571.42,485.95H574.18M572.80,485.50V487.07M571.73,487.30H573.87M571.88,487.52V490.00M573.72,487.52V490.00M571.88,488.65H573.72M571.88,489.87H573.72M575.02,485.95H577.78M576.40,485.50V487.07M575.33,487.30H577.47M575.48,487.52V490.00M577.32,487.52V490.00M575.48,488.65H577.32M575.48,489.87H577.32" fill="none" stroke="#666" stroke-width="0.5" />
<path d="M572,491.2 h5" fill="none" stroke="#aaa" stroke-width="0.8" />
<path d="M581,489.2 h18 M584.5,485.8 v7 M591,486.2 h6 v6 h-6 M582,489.2 a2.4,2.4 0 1,0 4.8,0 a2.4,2.4 0 1,0 -4.8,0" fill="none" stroke="#555" stroke-width="0.6" />
<path d="M563.38,495.62H565.82M564.60,495.20V496.67M563.65,496.88H565.55M563.78,497.09V499.40M565.42,497.09V499.40M563.78,498.14H565.42M563.78,499.27H565.42M566.58,495.62H569.02M567.80,495.20V496.67M566.85,496.88H568.75M566.98,497.09V499.40M568.62,497.09V499.40M566.98,498.14H568.62M566.98,499.27H568.62M569.91,495.41V499.40M572.09,495.41V499.40M569.91,495.41H572.09M570.32,496.81H571.68M570.32,497.75H571.68M571.00,496.04V498.56M569.91,499.27H572.09M572.98,495.62H575.42M574.20,495.20V496.67M573.25,496.88H575.15M573.38,497.09V499.40M575.02,497.09V499.40M573.38,498.14H575.02M573.38,499.27H575.02M576.59,495.41V499.40M576.04,497.08H576.96M576.09,498.98L576.96,497.72M577.17,495.54H578.59M577.13,496.71H578.63M577.14,497.89H578.55M577.10,499.06H578.66M577.44,495.54V499.01M578.11,495.28V499.40" fill="none" stroke="#666" stroke-width="0.5" />
<path d="M581,498.5 h3" fill="none" stroke="#777" stroke-width="0.8" />
<path d="M575.39,507.92H577.91M576.65,507.50V508.97M575.67,509.18H577.63M575.81,509.39V511.70M577.49,509.39V511.70M575.81,510.44H577.49M575.81,511.57H577.49M579.21,507.71V511.70M578.55,508.75H579.30M579.65,507.84H581.11M579.54,509.60H581.19M579.54,511.36H581.04M579.76,507.84V510.74M580.96,508.15V511.70M582.21,507.71V511.70M581.85,508.85H582.56M581.90,511.28L582.56,510.02M582.71,507.84H584.35M582.90,511.36H584.55M582.95,507.84V510.95M583.97,507.90V511.70M585.71,507.71V511.70M585.15,508.77H586.07M586.38,507.84H587.69M586.35,511.36H587.92M586.45,507.84V511.35M587.65,508.23V511.70" fill="none" stroke="#666" stroke-width="0.5" />
<path d="M574,514.1 h14" fill="none" stroke="#aaa" stroke-width="0.8" />
<path d="M563.63,515.71V519.70M563.25,517.17H564.15M564.48,515.84H565.84M564.51,517.01H565.99M564.42,518.19H565.89M564.40,519.36H565.89M564.65,515.84V519.29M565.55,515.96V519.70M566.69,515.92H569.21M567.95,515.50V516.97M566.97,517.18H568.93M567.11,517.39V519.70M568.79,517.39V519.70M567.11,518.44H568.79M567.11,519.57H568.79M570.13,515.71V519.70M572.37,515.71V519.70M570.13,515.71H572.37M570.55,517.24H571.95M570.55,518.43H571.95M571.25,516.34V518.86M570.13,519.57H572.37M573.59,515.71V519.70M573.15,516.80H574.12M573.20,519.28L574.12,518.02M574.41,515.84H575.89M574.27,519.36H575.80M574.51,515.84V518.93M575.19,515.52V519.70M576.73,515.71V519.70M578.97,515.71V519.70M576.73,515.71H578.97M577.15,516.84H578.55M577.15,518.39H578.55M577.85,516.34V518.86M576.73,519.57H578.97" fill="none" stroke="#666" stroke-width="0.5" />
<path d="M589.58,515.71V519.70M592.02,515.71V519.70M589.58,515.71H592.02M590.03,517.25H591.56M590.03,518.34H591.56M590.80,516.34V518.86M589.58,519.57H592.02M593.18,515.71V519.70M595.62,515.71V519.70M593.18,515.71H595.62M593.63,516.98H595.16M593.63,518.10H595.16M594.40,516.34V518.86M593.18,519.57H595.62" fill="none" stroke="#666" stroke-width="0.5" />
<path d="M566,521.3 h12 M588,521.3 h10" fill="none" stroke="#aaa" stroke-width="0.8" />
<path d="M565,526 h1 M572,526 h5 M587,526 h1 M592,526 h5 M566,532.5 h2 M572,532.5 h6 M587,532.5 h3 M592,532.5 h6 M566,538.5 h3 M573,538.5 h5" fill="none" stroke="#888" stroke-width="0.9" />
<path d="M640.52,463.99V471.40M646.25,463.99V471.40M640.52,463.99H646.25M641.59,466.67H645.18M641.59,469.17H645.18M643.38,465.16V469.84M640.52,471.17H646.25M648.90,463.99V471.40M647.77,466.79H650.41M647.91,470.62L650.41,468.28M650.87,464.22H654.53M650.99,467.50H654.60M650.78,470.78H654.31M651.13,464.22V469.22M653.65,465.07V471.40M656.46,463.99V471.40M662.19,463.99V471.40M656.46,463.99H662.19M657.53,465.94H661.12M657.53,468.50H661.12M659.33,465.16V469.84M656.46,471.17H662.19M664.07,464.38H670.52M667.29,463.60V466.33M664.78,466.72H669.81M665.14,467.11V471.40M669.45,467.11V471.40M665.14,469.06H669.45M665.14,471.17H669.45M673.13,463.99V471.40M671.68,466.14H674.12M671.82,470.62L674.12,468.28M675.03,464.22H678.13M674.84,470.78H678.65M675.55,464.22V469.71M677.34,465.12V471.40M681.32,463.99V471.40M679.65,466.82H681.68M679.79,470.62L681.68,468.28M682.16,464.22H686.62M682.60,467.50H686.38M682.62,470.78H686.78M682.96,464.22V469.49M685.37,464.17V471.40M687.98,464.38H694.43M691.21,463.60V466.33M688.69,466.72H693.72M689.05,467.11V471.40M693.36,467.11V471.40M689.05,469.06H693.36M689.05,471.17H693.36M696.59,463.99V471.40M695.59,466.59H697.61M698.00,464.22H702.71M698.35,467.50H702.66M698.00,470.78H702.53M698.43,464.22V470.72M701.63,463.64V471.40M704.28,463.99V471.40M710.01,463.99V471.40M704.28,463.99H710.01M705.35,466.12H708.94M705.35,468.37H708.94M707.14,465.16V469.84M704.28,471.17H710.01M711.89,464.38H718.34M715.12,463.60V466.33M712.60,466.72H717.63M712.96,467.11V471.40M717.27,467.11V471.40M712.96,469.06H717.27M712.96,471.17H717.27M721.16,463.99V471.40M719.50,467.08H721.79M719.64,470.62L721.79,468.28M722.26,464.22H726.37M722.51,466.41H726.01M722.68,468.59H726.41M722.71,470.78H726.29M722.92,464.22V470.73M724.84,464.50V471.40M728.75,463.99V471.40M727.47,465.77H729.96M730.51,464.22H734.04M730.84,467.50H734.12M730.47,470.78H734.32M731.19,464.22V471.21M732.63,464.97V471.40" fill="none" stroke="#333" stroke-width="0.8" />
<text x="687.2" y="479.2" font-family="Liberation Mono" font-size="5.8" text-anchor="middle" fill="#444" textLength="92" lengthAdjust="spacingAndGlyphs" >Shenzhen City RAX Technology CO.,LTD.</text>
<path d="M606.24,487.04V491.60M609.36,487.04V491.60M606.24,487.04H609.36M606.82,488.37H608.78M606.82,490.16H608.78M607.80,487.76V490.64M606.24,491.46H609.36" fill="none" stroke="#555" stroke-width="0.6" />
<path d="M615.24,487.04V491.60M618.36,487.04V491.60M615.24,487.04H618.36M615.82,488.83H617.78M615.82,490.31H617.78M616.80,487.76V490.64M615.24,491.46H618.36" fill="none" stroke="#555" stroke-width="0.6" />
<path d="M605.5,494.6 h14" fill="none" stroke="#aaa" stroke-width="0.9" />
<text x="630.6" y="493.8" font-family="Liberation Mono" font-size="7.6" text-anchor="start" fill="#777" textLength="34.4" lengthAdjust="spacingAndGlyphs" >120680-2</text>
<path d="M606.04,501.68H609.56M607.80,501.20V502.88M606.43,503.12H609.17M606.63,503.36V506.00M608.97,503.36V506.00M606.63,504.56H608.97M606.63,505.86H608.97" fill="none" stroke="#555" stroke-width="0.6" />
<path d="M615.37,501.44V506.00M614.85,502.61H615.89M614.92,505.52L615.89,504.08M616.21,501.58H618.58M616.15,502.93H618.39M616.28,504.27H618.50M616.13,505.62H618.38M616.34,501.58V505.02M618.15,502.00V506.00" fill="none" stroke="#555" stroke-width="0.6" />
<path d="M605.5,508.5 h10" fill="none" stroke="#aaa" stroke-width="0.9" />
<path d="M606.45,515.74V520.30M605.85,517.15H607.14M605.92,519.82L607.14,518.38M607.37,515.88H609.58M607.58,517.23H609.40M607.59,518.57H609.68M607.59,519.92H609.50M607.58,515.88V518.92M609.25,515.64V520.30" fill="none" stroke="#555" stroke-width="0.6" />
<path d="M615.04,515.98H618.56M616.80,515.50V517.18M615.43,517.42H618.17M615.63,517.66V520.30M617.97,517.66V520.30M615.63,518.86H617.97M615.63,520.16H617.97" fill="none" stroke="#555" stroke-width="0.6" />
<path d="M605.5,522.8 h12" fill="none" stroke="#aaa" stroke-width="0.9" />
<path d="M606.57,530.44V535.00M605.85,531.99H607.07M607.48,530.58H609.31M607.45,532.60H609.35M607.39,534.62H609.64M607.77,530.58V533.86M609.14,530.49V535.00" fill="none" stroke="#555" stroke-width="0.6" />
<path d="M615.04,530.68H618.56M616.80,530.20V531.88M615.43,532.12H618.17M615.63,532.36V535.00M617.97,532.36V535.00M615.63,533.56H617.97M615.63,534.86H617.97" fill="none" stroke="#555" stroke-width="0.6" />
<path d="M605.5,537.5 h12" fill="none" stroke="#aaa" stroke-width="0.9" />
<path d="M648.54,501.68H652.06M650.30,501.20V502.88M648.93,503.12H651.67M649.13,503.36V506.00M651.47,503.36V506.00M649.13,504.56H651.47M649.13,505.86H651.47" fill="none" stroke="#555" stroke-width="0.6" />
<path d="M656.74,501.44V506.00M659.86,501.44V506.00M656.74,501.44H659.86M657.32,503.29H659.28M657.32,504.12H659.28M658.30,502.16V505.04M656.74,505.86H659.86" fill="none" stroke="#555" stroke-width="0.6" />
<text x="648" y="511.4" font-family="Liberation Mono" font-size="5.4" text-anchor="start" fill="#666" textLength="13" lengthAdjust="spacingAndGlyphs" >DATE:</text>
<path d="M649.09,515.74V520.30M648.35,517.62H649.61M650.03,515.88H651.92M649.93,517.23H651.79M650.07,518.57H652.15M649.93,519.92H652.15M650.06,515.88V519.07M651.14,515.77V520.30" fill="none" stroke="#555" stroke-width="0.6" />
<path d="M657.18,515.74V520.30M656.35,517.17H657.33M657.61,515.88H659.85M657.64,517.90H659.98M657.69,519.92H660.15M658.01,515.88V518.99M659.85,516.43V520.30" fill="none" stroke="#555" stroke-width="0.6" />
<text x="648" y="525.7" font-family="Liberation Mono" font-size="5.4" text-anchor="start" fill="#666" textLength="13" lengthAdjust="spacingAndGlyphs" >DATE:</text>
<path d="M648.83,530.44V535.00M648.35,532.20H649.35M648.42,534.52L649.35,533.08M649.57,530.58H652.02M649.78,531.93H651.92M649.71,533.27H651.84M649.75,534.62H652.21M649.78,530.58V534.78M651.11,530.42V535.00" fill="none" stroke="#555" stroke-width="0.6" />
<path d="M657.20,530.44V535.00M656.35,531.71H657.41M656.42,534.52L657.41,533.08M657.72,530.58H659.93M657.85,531.93H659.83M657.64,533.27H660.20M657.87,534.62H659.90M657.87,530.58V534.36M659.44,530.88V535.00" fill="none" stroke="#555" stroke-width="0.6" />
<text x="648" y="540.4000000000001" font-family="Liberation Mono" font-size="5.4" text-anchor="start" fill="#666" textLength="13" lengthAdjust="spacingAndGlyphs" >DATE:</text>
<path d="M692.16,501.44V506.00M691.35,502.81H692.70M693.09,501.58H695.13M693.18,505.62H695.19M693.43,501.58V505.23M694.76,502.10V506.00" fill="none" stroke="#555" stroke-width="0.6" />
<path d="M700.04,501.68H703.56M701.80,501.20V502.88M700.43,503.12H703.17M700.63,503.36V506.00M702.97,503.36V506.00M700.63,504.56H702.97M700.63,505.86H702.97" fill="none" stroke="#555" stroke-width="0.6" />
<path d="M691,509.2 h13" fill="none" stroke="#aaa" stroke-width="0.9" />
<path d="M692.00,515.74V520.30M691.35,517.52H692.43M692.75,515.88H695.03M692.75,519.92H695.06M693.01,515.88V519.69M694.80,516.19V520.30" fill="none" stroke="#555" stroke-width="0.6" />
<path d="M700.59,515.74V520.30M699.85,517.57H701.25M699.92,519.82L701.25,518.38M701.55,515.88H703.31M701.70,517.23H703.49M701.52,518.57H703.58M701.45,519.92H703.31M701.73,515.88V519.66M703.19,515.53V520.30" fill="none" stroke="#555" stroke-width="0.6" />
<path d="M691,523.5 h13" fill="none" stroke="#aaa" stroke-width="0.9" />
<path d="M691.74,530.44V535.00M694.86,530.44V535.00M691.74,530.44H694.86M692.32,531.64H694.28M692.32,533.10H694.28M693.30,531.16V534.04M691.74,534.86H694.86" fill="none" stroke="#555" stroke-width="0.6" />
<path d="M700.38,530.44V535.00M699.85,532.19H701.07M701.39,530.58H703.38M701.32,532.60H703.30M701.32,534.62H703.41M701.52,530.58V534.72M703.25,530.91V535.00" fill="none" stroke="#555" stroke-width="0.6" />
<path d="M691,538.2 h13" fill="none" stroke="#aaa" stroke-width="0.9" />
<path d="M747.86,501.44V506.00M747.35,502.52H748.46M747.42,505.52L748.46,504.08M748.95,501.58H750.97M748.89,505.62H751.18M748.94,501.58V505.65M750.85,501.89V506.00" fill="none" stroke="#555" stroke-width="0.6" />
<path d="M756.53,501.44V506.00M755.85,503.34H757.14M755.92,505.52L757.14,504.08M757.49,501.58H759.75M757.59,503.60H759.74M757.63,505.62H759.41M757.62,501.58V505.25M758.62,501.21V506.00" fill="none" stroke="#555" stroke-width="0.6" />
<path d="M747,509.2 h11" fill="none" stroke="#aaa" stroke-width="0.9" />
<rect x="644" y="511" width="148" height="42" fill="#fff" fill-opacity="0.6"/>
<path d="M651.48,515.42V533.00M647.00,521.57H652.69M654.25,515.98H665.44M654.08,521.16H666.08M654.17,526.34H665.96M654.10,531.52H665.31M655.82,515.98V530.68M661.56,517.02V533.00M673.05,515.42V533.00M689.45,515.42V533.00M673.05,515.42H689.45M676.12,521.88H686.38M676.12,525.92H686.38M681.25,518.20V529.30M673.05,532.45H689.45M696.02,516.35H714.48M705.25,514.50V520.98M698.08,521.90H712.42M699.10,522.83V533.00M711.40,522.83V533.00M699.10,527.45H711.40M699.10,532.45H711.40M721.68,515.42V533.00M719.00,520.77H725.78M719.41,531.15L725.78,525.60M727.46,515.98H737.24M727.21,531.52H737.66M729.65,515.98V529.48M733.72,517.24V533.00M746.52,515.42V533.00M743.00,522.47H748.82M749.94,515.98H762.24M751.45,521.16H762.30M750.65,526.34H761.97M750.63,531.52H761.82M752.43,515.98V530.15M757.90,517.82V533.00M768.02,516.35H786.48M777.25,514.50V520.98M770.08,521.90H784.42M771.10,522.83V533.00M783.40,522.83V533.00M771.10,527.45H783.40M771.10,532.45H783.40" fill="none" stroke="#b0b0b0" stroke-width="4.0" stroke-linecap="square"/>
<path d="M651.48,515.42V533.00M647.00,521.57H652.69M654.25,515.98H665.44M654.08,521.16H666.08M654.17,526.34H665.96M654.10,531.52H665.31M655.82,515.98V530.68M661.56,517.02V533.00M673.05,515.42V533.00M689.45,515.42V533.00M673.05,515.42H689.45M676.12,521.88H686.38M676.12,525.92H686.38M681.25,518.20V529.30M673.05,532.45H689.45M696.02,516.35H714.48M705.25,514.50V520.98M698.08,521.90H712.42M699.10,522.83V533.00M711.40,522.83V533.00M699.10,527.45H711.40M699.10,532.45H711.40M721.68,515.42V533.00M719.00,520.77H725.78M719.41,531.15L725.78,525.60M727.46,515.98H737.24M727.21,531.52H737.66M729.65,515.98V529.48M733.72,517.24V533.00M746.52,515.42V533.00M743.00,522.47H748.82M749.94,515.98H762.24M751.45,521.16H762.30M750.65,526.34H761.97M750.63,531.52H761.82M752.43,515.98V530.15M757.90,517.82V533.00M768.02,516.35H786.48M777.25,514.50V520.98M770.08,521.90H784.42M771.10,522.83V533.00M783.40,522.83V533.00M771.10,527.45H783.40M771.10,532.45H783.40" fill="none" stroke="#fcfcfc" stroke-width="2.6" stroke-linecap="square"/>
<text x="716" y="551" font-family="Liberation Sans" font-size="19" text-anchor="middle" fill="#fcfcfc" textLength="139" lengthAdjust="spacingAndGlyphs" stroke="#b0b0b0" stroke-width="0.7">www.NE21.com</text>
</svg></body></html>
